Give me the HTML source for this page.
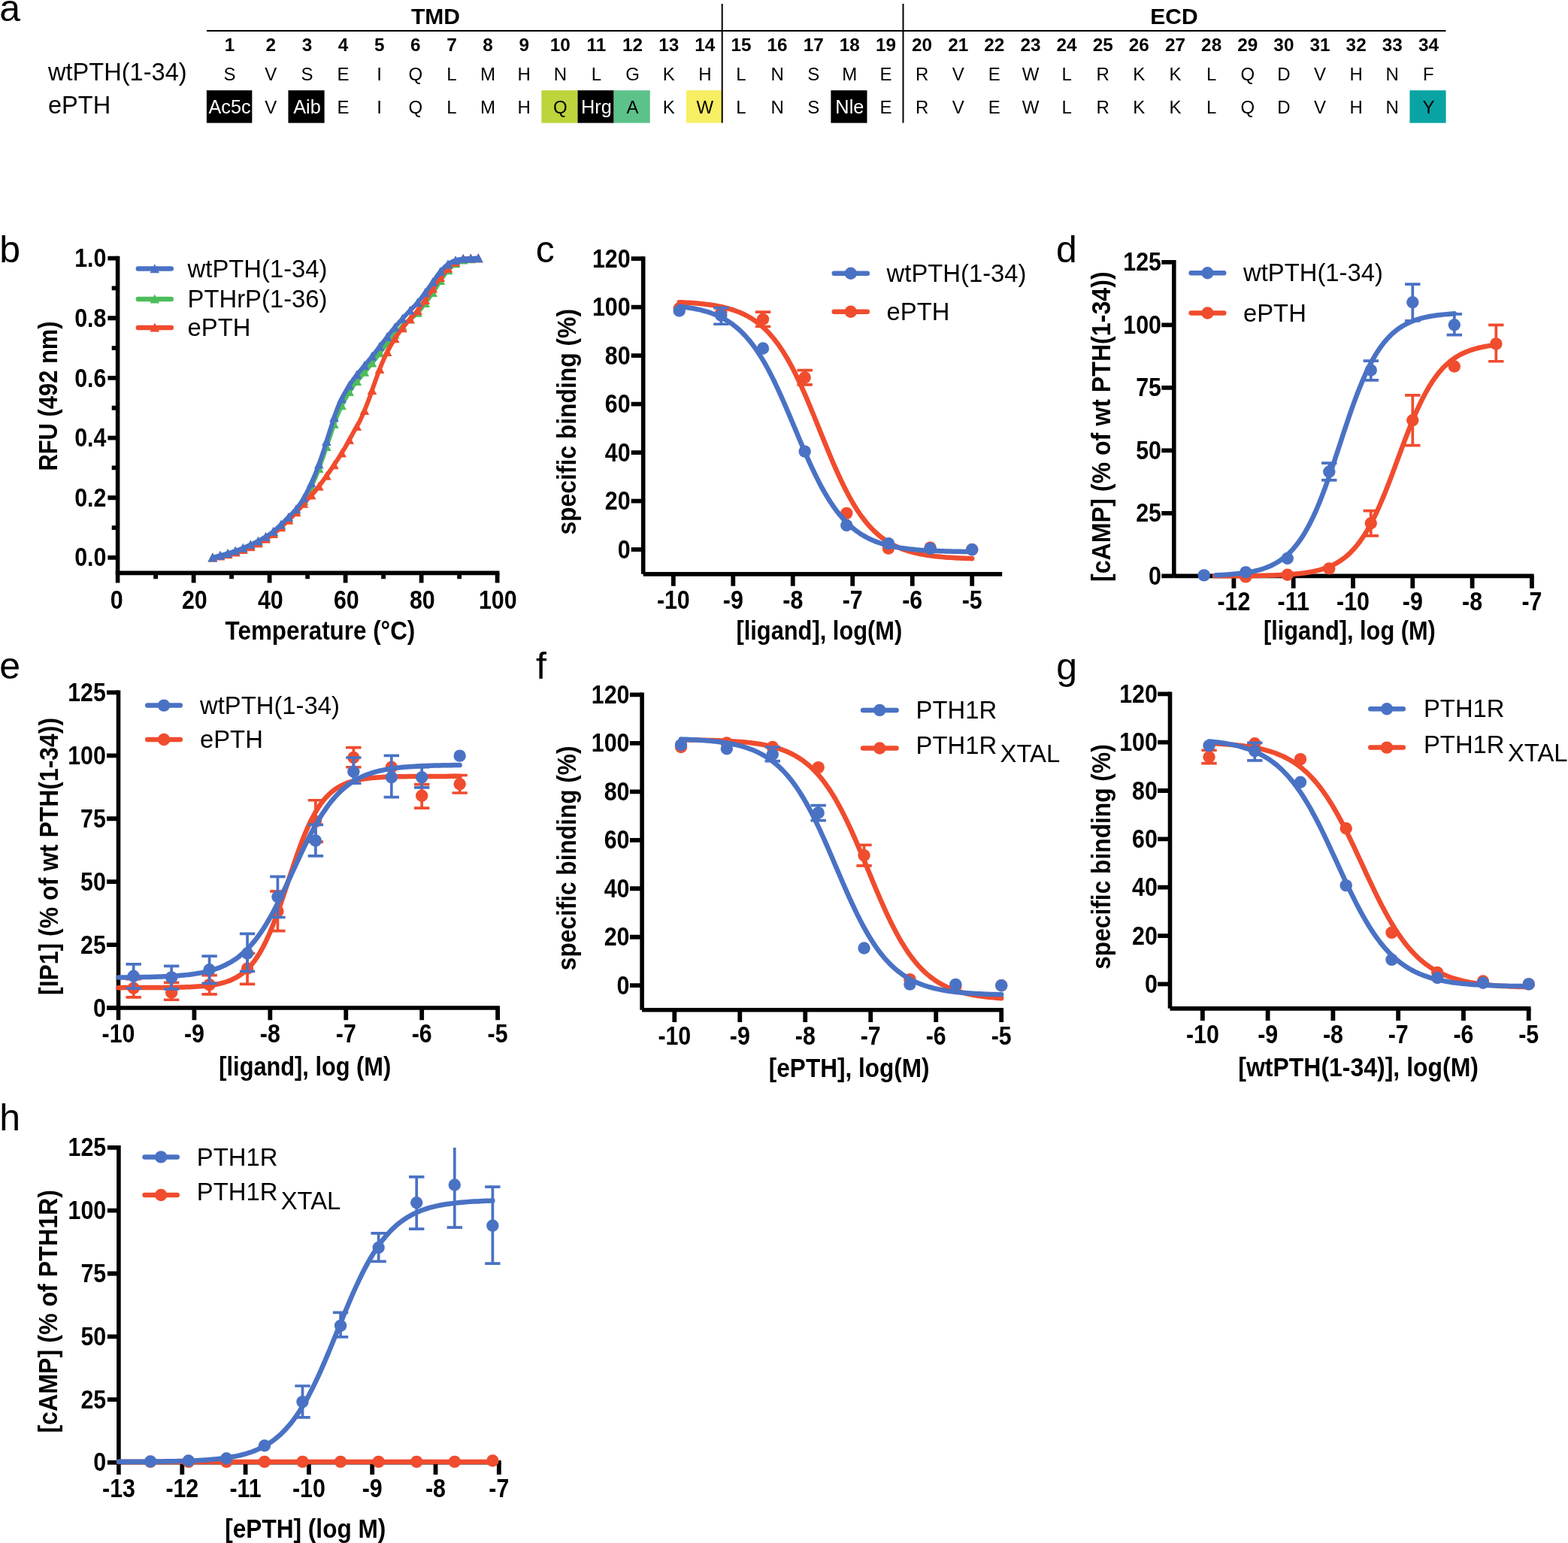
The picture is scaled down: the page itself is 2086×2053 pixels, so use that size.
<!DOCTYPE html>
<html lang="en">
<head>
<meta charset="utf-8">
<title>Figure</title>
<style>
html,body{margin:0;padding:0;background:#fff;}
body{width:2086px;height:2053px;overflow:hidden;}
svg{display:block;}
svg text{font-family:"Liberation Sans", Arial, Helvetica, sans-serif;fill:#000;}
</style>
</head>
<body>
<svg xmlns="http://www.w3.org/2000/svg" width="2086" height="2053" viewBox="0 0 2086 2053">
<rect width="2086" height="2053" fill="#fff"/>
<g id="panel-a">
<text transform="translate(-0.8 28.3)" font-size="50">a</text>
<text transform="translate(579.5 31.5)" font-size="30" font-weight="bold" text-anchor="middle">TMD</text>
<text transform="translate(1562 31.5)" font-size="30" font-weight="bold" text-anchor="middle">ECD</text>
<path d="M274.9 40.9 H1923.5" stroke="#000" stroke-width="2"/>
<rect x="274.9" y="120.2" width="60.44" height="43.4" fill="#000"/>
<rect x="383.46" y="120.2" width="48.13" height="43.4" fill="#000"/>
<rect x="720.36" y="120.2" width="48.13" height="43.4" fill="#bdd43b"/>
<rect x="768.49" y="120.2" width="48.13" height="43.4" fill="#000"/>
<rect x="816.62" y="120.2" width="48.13" height="43.4" fill="#5cc28a"/>
<rect x="912.87" y="120.2" width="48.13" height="43.4" fill="#f8ee63"/>
<rect x="1105.38" y="120.2" width="48.13" height="43.4" fill="#000"/>
<rect x="1875.43" y="120.2" width="48.13" height="43.4" fill="#0aa3a3"/>
<path d="M960.7 5 V163.5" stroke="#000" stroke-width="2"/>
<path d="M1201.5 5 V163.5" stroke="#000" stroke-width="2"/>
<text transform="translate(64 107.4)" font-size="32.6">wtPTH(1-34)</text>
<text transform="translate(64 150.8)" font-size="32.6">ePTH</text>
<text transform="translate(305.6 68.2)" font-size="24.3" font-weight="bold" text-anchor="middle">1</text>
<text transform="translate(305.6 107.4)" font-size="24" text-anchor="middle">S</text>
<text transform="translate(305.6 151)" font-size="25.3" text-anchor="middle" style="fill:#fff">Ac5c</text>
<text transform="translate(360.3 68.2)" font-size="24.3" font-weight="bold" text-anchor="middle">2</text>
<text transform="translate(360.3 107.4)" font-size="24" text-anchor="middle">V</text>
<text transform="translate(360.3 151)" font-size="24" text-anchor="middle">V</text>
<text transform="translate(408.43 68.2)" font-size="24.3" font-weight="bold" text-anchor="middle">3</text>
<text transform="translate(408.43 107.4)" font-size="24" text-anchor="middle">S</text>
<text transform="translate(408.43 151)" font-size="25.3" text-anchor="middle" style="fill:#fff">Aib</text>
<text transform="translate(456.56 68.2)" font-size="24.3" font-weight="bold" text-anchor="middle">4</text>
<text transform="translate(456.56 107.4)" font-size="24" text-anchor="middle">E</text>
<text transform="translate(456.56 151)" font-size="24" text-anchor="middle">E</text>
<text transform="translate(504.68 68.2)" font-size="24.3" font-weight="bold" text-anchor="middle">5</text>
<text transform="translate(504.68 107.4)" font-size="24" text-anchor="middle">I</text>
<text transform="translate(504.68 151)" font-size="24" text-anchor="middle">I</text>
<text transform="translate(552.81 68.2)" font-size="24.3" font-weight="bold" text-anchor="middle">6</text>
<text transform="translate(552.81 107.4)" font-size="24" text-anchor="middle">Q</text>
<text transform="translate(552.81 151)" font-size="24" text-anchor="middle">Q</text>
<text transform="translate(600.94 68.2)" font-size="24.3" font-weight="bold" text-anchor="middle">7</text>
<text transform="translate(600.94 107.4)" font-size="24" text-anchor="middle">L</text>
<text transform="translate(600.94 151)" font-size="24" text-anchor="middle">L</text>
<text transform="translate(649.07 68.2)" font-size="24.3" font-weight="bold" text-anchor="middle">8</text>
<text transform="translate(649.07 107.4)" font-size="24" text-anchor="middle">M</text>
<text transform="translate(649.07 151)" font-size="24" text-anchor="middle">M</text>
<text transform="translate(697.2 68.2)" font-size="24.3" font-weight="bold" text-anchor="middle">9</text>
<text transform="translate(697.2 107.4)" font-size="24" text-anchor="middle">H</text>
<text transform="translate(697.2 151)" font-size="24" text-anchor="middle">H</text>
<text transform="translate(745.32 68.2)" font-size="24.3" font-weight="bold" text-anchor="middle">10</text>
<text transform="translate(745.32 107.4)" font-size="24" text-anchor="middle">N</text>
<text transform="translate(745.32 151)" font-size="24" text-anchor="middle">Q</text>
<text transform="translate(793.45 68.2)" font-size="24.3" font-weight="bold" text-anchor="middle">11</text>
<text transform="translate(793.45 107.4)" font-size="24" text-anchor="middle">L</text>
<text transform="translate(793.45 151)" font-size="25.3" text-anchor="middle" style="fill:#fff">Hrg</text>
<text transform="translate(841.58 68.2)" font-size="24.3" font-weight="bold" text-anchor="middle">12</text>
<text transform="translate(841.58 107.4)" font-size="24" text-anchor="middle">G</text>
<text transform="translate(841.58 151)" font-size="24" text-anchor="middle">A</text>
<text transform="translate(889.71 68.2)" font-size="24.3" font-weight="bold" text-anchor="middle">13</text>
<text transform="translate(889.71 107.4)" font-size="24" text-anchor="middle">K</text>
<text transform="translate(889.71 151)" font-size="24" text-anchor="middle">K</text>
<text transform="translate(937.84 68.2)" font-size="24.3" font-weight="bold" text-anchor="middle">14</text>
<text transform="translate(937.84 107.4)" font-size="24" text-anchor="middle">H</text>
<text transform="translate(937.84 151)" font-size="24" text-anchor="middle">W</text>
<text transform="translate(985.96 68.2)" font-size="24.3" font-weight="bold" text-anchor="middle">15</text>
<text transform="translate(985.96 107.4)" font-size="24" text-anchor="middle">L</text>
<text transform="translate(985.96 151)" font-size="24" text-anchor="middle">L</text>
<text transform="translate(1034.09 68.2)" font-size="24.3" font-weight="bold" text-anchor="middle">16</text>
<text transform="translate(1034.09 107.4)" font-size="24" text-anchor="middle">N</text>
<text transform="translate(1034.09 151)" font-size="24" text-anchor="middle">N</text>
<text transform="translate(1082.22 68.2)" font-size="24.3" font-weight="bold" text-anchor="middle">17</text>
<text transform="translate(1082.22 107.4)" font-size="24" text-anchor="middle">S</text>
<text transform="translate(1082.22 151)" font-size="24" text-anchor="middle">S</text>
<text transform="translate(1130.35 68.2)" font-size="24.3" font-weight="bold" text-anchor="middle">18</text>
<text transform="translate(1130.35 107.4)" font-size="24" text-anchor="middle">M</text>
<text transform="translate(1130.35 151)" font-size="25.3" text-anchor="middle" style="fill:#fff">Nle</text>
<text transform="translate(1178.48 68.2)" font-size="24.3" font-weight="bold" text-anchor="middle">19</text>
<text transform="translate(1178.48 107.4)" font-size="24" text-anchor="middle">E</text>
<text transform="translate(1178.48 151)" font-size="24" text-anchor="middle">E</text>
<text transform="translate(1226.6 68.2)" font-size="24.3" font-weight="bold" text-anchor="middle">20</text>
<text transform="translate(1226.6 107.4)" font-size="24" text-anchor="middle">R</text>
<text transform="translate(1226.6 151)" font-size="24" text-anchor="middle">R</text>
<text transform="translate(1274.73 68.2)" font-size="24.3" font-weight="bold" text-anchor="middle">21</text>
<text transform="translate(1274.73 107.4)" font-size="24" text-anchor="middle">V</text>
<text transform="translate(1274.73 151)" font-size="24" text-anchor="middle">V</text>
<text transform="translate(1322.86 68.2)" font-size="24.3" font-weight="bold" text-anchor="middle">22</text>
<text transform="translate(1322.86 107.4)" font-size="24" text-anchor="middle">E</text>
<text transform="translate(1322.86 151)" font-size="24" text-anchor="middle">E</text>
<text transform="translate(1370.99 68.2)" font-size="24.3" font-weight="bold" text-anchor="middle">23</text>
<text transform="translate(1370.99 107.4)" font-size="24" text-anchor="middle">W</text>
<text transform="translate(1370.99 151)" font-size="24" text-anchor="middle">W</text>
<text transform="translate(1419.12 68.2)" font-size="24.3" font-weight="bold" text-anchor="middle">24</text>
<text transform="translate(1419.12 107.4)" font-size="24" text-anchor="middle">L</text>
<text transform="translate(1419.12 151)" font-size="24" text-anchor="middle">L</text>
<text transform="translate(1467.24 68.2)" font-size="24.3" font-weight="bold" text-anchor="middle">25</text>
<text transform="translate(1467.24 107.4)" font-size="24" text-anchor="middle">R</text>
<text transform="translate(1467.24 151)" font-size="24" text-anchor="middle">R</text>
<text transform="translate(1515.37 68.2)" font-size="24.3" font-weight="bold" text-anchor="middle">26</text>
<text transform="translate(1515.37 107.4)" font-size="24" text-anchor="middle">K</text>
<text transform="translate(1515.37 151)" font-size="24" text-anchor="middle">K</text>
<text transform="translate(1563.5 68.2)" font-size="24.3" font-weight="bold" text-anchor="middle">27</text>
<text transform="translate(1563.5 107.4)" font-size="24" text-anchor="middle">K</text>
<text transform="translate(1563.5 151)" font-size="24" text-anchor="middle">K</text>
<text transform="translate(1611.63 68.2)" font-size="24.3" font-weight="bold" text-anchor="middle">28</text>
<text transform="translate(1611.63 107.4)" font-size="24" text-anchor="middle">L</text>
<text transform="translate(1611.63 151)" font-size="24" text-anchor="middle">L</text>
<text transform="translate(1659.76 68.2)" font-size="24.3" font-weight="bold" text-anchor="middle">29</text>
<text transform="translate(1659.76 107.4)" font-size="24" text-anchor="middle">Q</text>
<text transform="translate(1659.76 151)" font-size="24" text-anchor="middle">Q</text>
<text transform="translate(1707.88 68.2)" font-size="24.3" font-weight="bold" text-anchor="middle">30</text>
<text transform="translate(1707.88 107.4)" font-size="24" text-anchor="middle">D</text>
<text transform="translate(1707.88 151)" font-size="24" text-anchor="middle">D</text>
<text transform="translate(1756.01 68.2)" font-size="24.3" font-weight="bold" text-anchor="middle">31</text>
<text transform="translate(1756.01 107.4)" font-size="24" text-anchor="middle">V</text>
<text transform="translate(1756.01 151)" font-size="24" text-anchor="middle">V</text>
<text transform="translate(1804.14 68.2)" font-size="24.3" font-weight="bold" text-anchor="middle">32</text>
<text transform="translate(1804.14 107.4)" font-size="24" text-anchor="middle">H</text>
<text transform="translate(1804.14 151)" font-size="24" text-anchor="middle">H</text>
<text transform="translate(1852.27 68.2)" font-size="24.3" font-weight="bold" text-anchor="middle">33</text>
<text transform="translate(1852.27 107.4)" font-size="24" text-anchor="middle">N</text>
<text transform="translate(1852.27 151)" font-size="24" text-anchor="middle">N</text>
<text transform="translate(1900.4 68.2)" font-size="24.3" font-weight="bold" text-anchor="middle">34</text>
<text transform="translate(1900.4 107.4)" font-size="24" text-anchor="middle">F</text>
<text transform="translate(1900.4 151)" font-size="24" text-anchor="middle">Y</text>
</g>
<g id="panel-b">
<text transform="translate(-0.8 349.3)" font-size="50">b</text>
<polyline points="282.85,741.9 285.38,741.27 287.9,740.67 290.42,740.07 292.95,739.47 295.48,738.87 298,738.26 300.52,737.63 303.05,736.96 305.57,736.27 308.1,735.53 310.62,734.74 313.15,733.92 315.67,733.05 318.2,732.15 320.73,731.21 323.25,730.23 325.77,729.22 328.3,728.17 330.82,727.09 333.35,725.97 335.88,724.81 338.4,723.61 340.92,722.36 343.45,721.06 345.98,719.71 348.5,718.3 351.02,716.83 353.55,715.3 356.07,713.7 358.6,712.03 361.12,710.25 363.65,708.34 366.17,706.32 368.7,704.19 371.23,701.97 373.75,699.68 376.27,697.34 378.8,694.95 381.32,692.54 383.85,690.12 386.38,687.72 388.9,685.3 391.42,682.81 393.95,680.17 396.48,677.32 399,674.19 401.52,670.6 404.05,666.51 406.57,662.08 409.1,657.46 411.62,652.65 414.15,647.54 416.67,642.11 419.2,636.35 421.73,630.11 424.25,623.39 426.77,616.38 429.3,609.27 431.82,601.98 434.35,594.44 436.88,586.84 439.4,579.39 441.92,571.93 444.45,564.4 446.98,557.21 449.5,550.72 452.02,544.95 454.55,539.64 457.07,534.68 459.6,530 462.12,525.54 464.65,521.31 467.17,517.35 469.7,513.67 472.23,510.34 474.75,507.28 477.27,504.32 479.8,501.33 482.32,498.28 484.85,495.26 487.38,492.25 489.9,489.22 492.42,486.14 494.95,483 497.48,479.76 500,476.41 502.52,473.02 505.05,469.63 507.57,466.31 510.1,463.09 512.62,459.97 515.15,456.9 517.67,453.88 520.2,450.91 522.73,448.01 525.25,445.17 527.77,442.37 530.3,439.6 532.82,436.89 535.35,434.25 537.88,431.69 540.4,429.23 542.92,426.96 545.45,424.86 547.98,422.83 550.5,420.77 553.02,418.56 555.55,416.09 558.07,413.24 560.6,410.07 563.12,406.72 565.65,403.35 568.17,399.99 570.7,396.57 573.23,393.05 575.75,389.4 578.27,385.52 580.8,381.44 583.32,377.36 585.85,373.47 588.38,369.71 590.9,365.99 593.42,362.53 595.95,359.53 598.48,356.94 601,354.58 603.52,352.5 606.05,350.77 608.57,349.25 611.1,347.86 613.62,346.73 616.15,345.99 618.67,345.53 621.2,345.15 623.73,344.84 626.25,344.58 628.77,344.35 631.3,344.12 633.82,343.88 636.35,343.6" fill="none" stroke="#4cbd5a" stroke-width="5.9" stroke-linejoin="round" stroke-linecap="round"/>
<path d="M282.85 735.5 L289.15 747.5 L276.55 747.5 Z" fill="#4cbd5a"/><path d="M292.95 733.07 L299.25 745.07 L286.65 745.07 Z" fill="#4cbd5a"/><path d="M303.05 730.56 L309.35 742.56 L296.75 742.56 Z" fill="#4cbd5a"/><path d="M313.15 727.52 L319.45 739.52 L306.85 739.52 Z" fill="#4cbd5a"/><path d="M323.25 723.83 L329.55 735.83 L316.95 735.83 Z" fill="#4cbd5a"/><path d="M333.35 719.57 L339.65 731.57 L327.05 731.57 Z" fill="#4cbd5a"/><path d="M343.45 714.66 L349.75 726.66 L337.15 726.66 Z" fill="#4cbd5a"/><path d="M353.55 708.9 L359.85 720.9 L347.25 720.9 Z" fill="#4cbd5a"/><path d="M363.65 701.94 L369.95 713.94 L357.35 713.94 Z" fill="#4cbd5a"/><path d="M373.75 693.28 L380.05 705.28 L367.45 705.28 Z" fill="#4cbd5a"/><path d="M383.85 683.72 L390.15 695.72 L377.55 695.72 Z" fill="#4cbd5a"/><path d="M393.95 673.77 L400.25 685.77 L387.65 685.77 Z" fill="#4cbd5a"/><path d="M404.05 660.11 L410.35 672.11 L397.75 672.11 Z" fill="#4cbd5a"/><path d="M414.15 641.14 L420.45 653.14 L407.85 653.14 Z" fill="#4cbd5a"/><path d="M424.25 616.99 L430.55 628.99 L417.95 628.99 Z" fill="#4cbd5a"/><path d="M434.35 588.04 L440.65 600.04 L428.05 600.04 Z" fill="#4cbd5a"/><path d="M444.45 558 L450.75 570 L438.15 570 Z" fill="#4cbd5a"/><path d="M454.55 533.24 L460.85 545.24 L448.25 545.24 Z" fill="#4cbd5a"/><path d="M464.65 514.91 L470.95 526.91 L458.35 526.91 Z" fill="#4cbd5a"/><path d="M474.75 500.88 L481.05 512.88 L468.45 512.88 Z" fill="#4cbd5a"/><path d="M484.85 488.86 L491.15 500.86 L478.55 500.86 Z" fill="#4cbd5a"/><path d="M494.95 476.61 L501.25 488.61 L488.65 488.61 Z" fill="#4cbd5a"/><path d="M505.05 463.23 L511.35 475.23 L498.75 475.23 Z" fill="#4cbd5a"/><path d="M515.15 450.5 L521.45 462.5 L508.85 462.5 Z" fill="#4cbd5a"/><path d="M525.25 438.77 L531.55 450.77 L518.95 450.77 Z" fill="#4cbd5a"/><path d="M535.35 427.85 L541.65 439.85 L529.05 439.85 Z" fill="#4cbd5a"/><path d="M545.45 418.46 L551.75 430.46 L539.15 430.46 Z" fill="#4cbd5a"/><path d="M555.55 409.69 L561.85 421.69 L549.25 421.69 Z" fill="#4cbd5a"/><path d="M565.65 396.95 L571.95 408.95 L559.35 408.95 Z" fill="#4cbd5a"/><path d="M575.75 383 L582.05 395 L569.45 395 Z" fill="#4cbd5a"/><path d="M585.85 367.07 L592.15 379.07 L579.55 379.07 Z" fill="#4cbd5a"/><path d="M595.95 353.13 L602.25 365.13 L589.65 365.13 Z" fill="#4cbd5a"/><path d="M606.05 344.37 L612.35 356.37 L599.75 356.37 Z" fill="#4cbd5a"/><path d="M616.15 339.59 L622.45 351.59 L609.85 351.59 Z" fill="#4cbd5a"/><path d="M626.25 338.18 L632.55 350.18 L619.95 350.18 Z" fill="#4cbd5a"/><path d="M636.35 337.2 L642.65 349.2 L630.05 349.2 Z" fill="#4cbd5a"/>
<polyline points="282.85,741.9 285.38,741.35 287.9,740.82 290.42,740.31 292.95,739.79 295.48,739.27 298,738.73 300.52,738.18 303.05,737.6 305.57,736.98 308.1,736.32 310.62,735.62 313.15,734.88 315.67,734.1 318.2,733.28 320.73,732.42 323.25,731.52 325.77,730.59 328.3,729.62 330.82,728.61 333.35,727.56 335.88,726.47 338.4,725.33 340.92,724.13 343.45,722.87 345.98,721.55 348.5,720.17 351.02,718.73 353.55,717.23 356.07,715.66 358.6,714.02 361.12,712.27 363.65,710.37 366.17,708.35 368.7,706.22 371.23,704 373.75,701.7 376.27,699.35 378.8,696.95 381.32,694.54 383.85,692.11 386.38,689.64 388.9,687.09 391.42,684.45 393.95,681.74 396.48,678.98 399,676.18 401.52,673.26 404.05,670.21 406.57,667.16 409.1,664.23 411.62,661.52 414.15,658.93 416.67,656.3 419.2,653.48 421.73,650.4 424.25,647.14 426.77,643.75 429.3,640.26 431.82,636.72 434.35,633.16 436.88,629.59 439.4,625.97 441.92,622.28 444.45,618.54 446.98,614.73 449.5,610.86 452.02,606.92 454.55,602.9 457.07,598.78 459.6,594.53 462.12,590.1 464.65,585.5 467.17,580.84 469.7,576.21 472.23,571.75 474.75,567.37 477.27,562.83 479.8,557.89 482.32,552.38 484.85,546.41 487.38,540.11 489.9,533.59 492.42,526.68 494.95,519.36 497.48,511.99 500,504.91 502.52,498.09 505.05,491.38 507.57,484.96 510.1,479.02 512.62,473.57 515.15,468.46 517.67,463.65 520.2,459.11 522.73,454.79 525.25,450.7 527.77,446.83 530.3,443.18 532.82,439.76 535.35,436.54 537.88,433.46 540.4,430.43 542.92,427.5 545.45,424.71 547.98,421.97 550.5,419.21 553.02,416.35 555.55,413.3 558.07,410.03 560.6,406.57 563.12,402.99 565.65,399.36 568.17,395.66 570.7,391.85 573.23,388.01 575.75,384.23 578.27,380.45 580.8,376.67 583.32,372.98 585.85,369.49 588.38,366.14 590.9,362.88 593.42,359.84 595.95,357.14 598.48,354.7 601,352.43 603.52,350.43 606.05,348.78 608.57,347.32 611.1,345.97 613.62,344.92 616.15,344.4 618.67,344.22 621.2,344.08 623.73,343.98 626.25,343.9 628.77,343.83 631.3,343.76 633.82,343.69 636.35,343.6" fill="none" stroke="#f04c2e" stroke-width="5.9" stroke-linejoin="round" stroke-linecap="round"/>
<path d="M282.85 735.5 L289.15 747.5 L276.55 747.5 Z" fill="#f04c2e"/><path d="M292.95 733.39 L299.25 745.39 L286.65 745.39 Z" fill="#f04c2e"/><path d="M303.05 731.2 L309.35 743.2 L296.75 743.2 Z" fill="#f04c2e"/><path d="M313.15 728.48 L319.45 740.48 L306.85 740.48 Z" fill="#f04c2e"/><path d="M323.25 725.12 L329.55 737.12 L316.95 737.12 Z" fill="#f04c2e"/><path d="M333.35 721.16 L339.65 733.16 L327.05 733.16 Z" fill="#f04c2e"/><path d="M343.45 716.47 L349.75 728.47 L337.15 728.47 Z" fill="#f04c2e"/><path d="M353.55 710.83 L359.85 722.83 L347.25 722.83 Z" fill="#f04c2e"/><path d="M363.65 703.97 L369.95 715.97 L357.35 715.97 Z" fill="#f04c2e"/><path d="M373.75 695.3 L380.05 707.3 L367.45 707.3 Z" fill="#f04c2e"/><path d="M383.85 685.71 L390.15 697.71 L377.55 697.71 Z" fill="#f04c2e"/><path d="M393.95 675.34 L400.25 687.34 L387.65 687.34 Z" fill="#f04c2e"/><path d="M404.05 663.81 L410.35 675.81 L397.75 675.81 Z" fill="#f04c2e"/><path d="M414.15 652.53 L420.45 664.53 L407.85 664.53 Z" fill="#f04c2e"/><path d="M424.25 640.74 L430.55 652.74 L417.95 652.74 Z" fill="#f04c2e"/><path d="M434.35 626.76 L440.65 638.76 L428.05 638.76 Z" fill="#f04c2e"/><path d="M444.45 612.14 L450.75 624.14 L438.15 624.14 Z" fill="#f04c2e"/><path d="M454.55 596.5 L460.85 608.5 L448.25 608.5 Z" fill="#f04c2e"/><path d="M464.65 579.1 L470.95 591.1 L458.35 591.1 Z" fill="#f04c2e"/><path d="M474.75 560.97 L481.05 572.97 L468.45 572.97 Z" fill="#f04c2e"/><path d="M484.85 540.01 L491.15 552.01 L478.55 552.01 Z" fill="#f04c2e"/><path d="M494.95 512.96 L501.25 524.96 L488.65 524.96 Z" fill="#f04c2e"/><path d="M505.05 484.98 L511.35 496.98 L498.75 496.98 Z" fill="#f04c2e"/><path d="M515.15 462.06 L521.45 474.06 L508.85 474.06 Z" fill="#f04c2e"/><path d="M525.25 444.3 L531.55 456.3 L518.95 456.3 Z" fill="#f04c2e"/><path d="M535.35 430.14 L541.65 442.14 L529.05 442.14 Z" fill="#f04c2e"/><path d="M545.45 418.31 L551.75 430.31 L539.15 430.31 Z" fill="#f04c2e"/><path d="M555.55 406.9 L561.85 418.9 L549.25 418.9 Z" fill="#f04c2e"/><path d="M565.65 392.96 L571.95 404.96 L559.35 404.96 Z" fill="#f04c2e"/><path d="M575.75 377.83 L582.05 389.83 L569.45 389.83 Z" fill="#f04c2e"/><path d="M585.85 363.09 L592.15 375.09 L579.55 375.09 Z" fill="#f04c2e"/><path d="M595.95 350.74 L602.25 362.74 L589.65 362.74 Z" fill="#f04c2e"/><path d="M606.05 342.38 L612.35 354.38 L599.75 354.38 Z" fill="#f04c2e"/><path d="M616.15 338 L622.45 350 L609.85 350 Z" fill="#f04c2e"/><path d="M626.25 337.5 L632.55 349.5 L619.95 349.5 Z" fill="#f04c2e"/><path d="M636.35 337.2 L642.65 349.2 L630.05 349.2 Z" fill="#f04c2e"/>
<polyline points="282.85,741.9 285.38,741.19 287.9,740.5 290.42,739.82 292.95,739.14 295.48,738.46 298,737.77 300.52,737.05 303.05,736.31 305.57,735.54 308.1,734.73 310.62,733.88 313.15,733 315.67,732.09 318.2,731.14 320.73,730.16 323.25,729.15 325.77,728.11 328.3,727.03 330.82,725.92 333.35,724.77 335.88,723.6 338.4,722.39 340.92,721.14 343.45,719.85 345.98,718.51 348.5,717.11 351.02,715.65 353.55,714.12 356.07,712.52 358.6,710.83 361.12,709.03 363.65,707.08 366.17,705 368.7,702.8 371.23,700.51 373.75,698.14 376.27,695.7 378.8,693.21 381.32,690.68 383.85,688.13 386.38,685.57 388.9,682.98 391.42,680.28 393.95,677.42 396.48,674.35 399,671 401.52,667.21 404.05,662.94 406.57,658.32 409.1,653.48 411.62,648.39 414.15,642.97 416.67,637.22 419.2,631.17 421.73,624.73 424.25,617.85 426.77,610.67 429.3,603.29 431.82,595.58 434.35,587.5 436.88,579.35 439.4,571.43 441.92,563.56 444.45,555.66 446.98,548.18 449.5,541.56 452.02,535.82 454.55,530.61 457.07,525.79 459.6,521.24 462.12,516.9 464.65,512.81 467.17,508.95 469.7,505.31 472.23,501.91 474.75,498.73 477.27,495.65 479.8,492.56 482.32,489.48 484.85,486.44 487.38,483.42 489.9,480.4 492.42,477.35 494.95,474.24 497.48,471.06 500,467.81 502.52,464.54 505.05,461.25 507.57,457.97 510.1,454.73 512.62,451.49 515.15,448.25 517.67,445.01 520.2,441.81 522.73,438.67 525.25,435.61 527.77,432.63 530.3,429.71 532.82,426.85 535.35,424.03 537.88,421.24 540.4,418.48 542.92,415.8 545.45,413.22 547.98,410.67 550.5,408.09 553.02,405.4 555.55,402.55 558.07,399.46 560.6,396.19 563.12,392.81 565.65,389.4 568.17,385.98 570.7,382.49 573.23,378.97 575.75,375.46 578.27,371.87 580.8,368.2 583.32,364.68 585.85,361.52 588.38,358.65 590.9,355.94 593.42,353.54 595.95,351.57 598.48,349.93 601,348.48 603.52,347.28 606.05,346.39 608.57,345.71 611.1,345.12 613.62,344.67 616.15,344.4 618.67,344.24 621.2,344.11 623.73,344 626.25,343.92 628.77,343.84 631.3,343.77 633.82,343.69 636.35,343.6" fill="none" stroke="#4a72c4" stroke-width="5.9" stroke-linejoin="round" stroke-linecap="round"/>
<path d="M282.85 735.5 L289.15 747.5 L276.55 747.5 Z" fill="#4a72c4"/><path d="M292.95 732.74 L299.25 744.74 L286.65 744.74 Z" fill="#4a72c4"/><path d="M303.05 729.91 L309.35 741.91 L296.75 741.91 Z" fill="#4a72c4"/><path d="M313.15 726.6 L319.45 738.6 L306.85 738.6 Z" fill="#4a72c4"/><path d="M323.25 722.75 L329.55 734.75 L316.95 734.75 Z" fill="#4a72c4"/><path d="M333.35 718.37 L339.65 730.37 L327.05 730.37 Z" fill="#4a72c4"/><path d="M343.45 713.45 L349.75 725.45 L337.15 725.45 Z" fill="#4a72c4"/><path d="M353.55 707.72 L359.85 719.72 L347.25 719.72 Z" fill="#4a72c4"/><path d="M363.65 700.68 L369.95 712.68 L357.35 712.68 Z" fill="#4a72c4"/><path d="M373.75 691.74 L380.05 703.74 L367.45 703.74 Z" fill="#4a72c4"/><path d="M383.85 681.73 L390.15 693.73 L377.55 693.73 Z" fill="#4a72c4"/><path d="M393.95 671.02 L400.25 683.02 L387.65 683.02 Z" fill="#4a72c4"/><path d="M404.05 656.54 L410.35 668.54 L397.75 668.54 Z" fill="#4a72c4"/><path d="M414.15 636.57 L420.45 648.57 L407.85 648.57 Z" fill="#4a72c4"/><path d="M424.25 611.45 L430.55 623.45 L417.95 623.45 Z" fill="#4a72c4"/><path d="M434.35 581.1 L440.65 593.1 L428.05 593.1 Z" fill="#4a72c4"/><path d="M444.45 549.26 L450.75 561.26 L438.15 561.26 Z" fill="#4a72c4"/><path d="M454.55 524.21 L460.85 536.21 L448.25 536.21 Z" fill="#4a72c4"/><path d="M464.65 506.41 L470.95 518.41 L458.35 518.41 Z" fill="#4a72c4"/><path d="M474.75 492.33 L481.05 504.33 L468.45 504.33 Z" fill="#4a72c4"/><path d="M484.85 480.04 L491.15 492.04 L478.55 492.04 Z" fill="#4a72c4"/><path d="M494.95 467.84 L501.25 479.84 L488.65 479.84 Z" fill="#4a72c4"/><path d="M505.05 454.85 L511.35 466.85 L498.75 466.85 Z" fill="#4a72c4"/><path d="M515.15 441.85 L521.45 453.85 L508.85 453.85 Z" fill="#4a72c4"/><path d="M525.25 429.21 L531.55 441.21 L518.95 441.21 Z" fill="#4a72c4"/><path d="M535.35 417.63 L541.65 429.63 L529.05 429.63 Z" fill="#4a72c4"/><path d="M545.45 406.82 L551.75 418.82 L539.15 418.82 Z" fill="#4a72c4"/><path d="M555.55 396.15 L561.85 408.15 L549.25 408.15 Z" fill="#4a72c4"/><path d="M565.65 383 L571.95 395 L559.35 395 Z" fill="#4a72c4"/><path d="M575.75 369.06 L582.05 381.06 L569.45 381.06 Z" fill="#4a72c4"/><path d="M585.85 355.12 L592.15 367.12 L579.55 367.12 Z" fill="#4a72c4"/><path d="M595.95 345.17 L602.25 357.17 L589.65 357.17 Z" fill="#4a72c4"/><path d="M606.05 339.99 L612.35 351.99 L599.75 351.99 Z" fill="#4a72c4"/><path d="M616.15 338 L622.45 350 L609.85 350 Z" fill="#4a72c4"/><path d="M626.25 337.52 L632.55 349.52 L619.95 349.52 Z" fill="#4a72c4"/><path d="M636.35 337.2 L642.65 349.2 L630.05 349.2 Z" fill="#4a72c4"/>
<g stroke="#000" stroke-width="5.6" fill="none">
<path d="M153.8 762.4 H664.4"/>
<path d="M156.6 775.6 V340.7"/>
</g>
<path d="M257.6 762.4 v13.2 M358.6 762.4 v13.2 M459.6 762.4 v13.2 M560.6 762.4 v13.2 M661.6 762.4 v13.2 M207.1 762.4 v7.8 M308.1 762.4 v7.8 M409.1 762.4 v7.8 M510.1 762.4 v7.8 M611.1 762.4 v7.8 M156.6 741.9 h-13.2 M156.6 662.24 h-13.2 M156.6 582.58 h-13.2 M156.6 502.92 h-13.2 M156.6 423.26 h-13.2 M156.6 343.6 h-13.2 M156.6 702.07 h-7.9 M156.6 622.41 h-7.9 M156.6 542.75 h-7.9 M156.6 463.09 h-7.9 M156.6 383.43 h-7.9" stroke="#000" stroke-width="5.8" fill="none"/>
<g class="ticks">
<text transform="translate(155.3 810) scale(0.885 1)" font-size="34.3" font-weight="bold" text-anchor="middle">0</text>
<text transform="translate(258.75 810) scale(0.885 1)" font-size="34.3" font-weight="bold" text-anchor="middle">20</text>
<text transform="translate(359.75 810) scale(0.885 1)" font-size="34.3" font-weight="bold" text-anchor="middle">40</text>
<text transform="translate(460.75 810) scale(0.885 1)" font-size="34.3" font-weight="bold" text-anchor="middle">60</text>
<text transform="translate(561.75 810) scale(0.885 1)" font-size="34.3" font-weight="bold" text-anchor="middle">80</text>
<text transform="translate(662.2 810) scale(0.885 1)" font-size="34.3" font-weight="bold" text-anchor="middle">100</text>
<text transform="translate(141.4 753.48) scale(0.885 1)" font-size="34.3" font-weight="bold" text-anchor="end">0.0</text>
<text transform="translate(141.4 673.82) scale(0.885 1)" font-size="34.3" font-weight="bold" text-anchor="end">0.2</text>
<text transform="translate(141.4 594.16) scale(0.885 1)" font-size="34.3" font-weight="bold" text-anchor="end">0.4</text>
<text transform="translate(141.4 514.5) scale(0.885 1)" font-size="34.3" font-weight="bold" text-anchor="end">0.6</text>
<text transform="translate(141.4 434.84) scale(0.885 1)" font-size="34.3" font-weight="bold" text-anchor="end">0.8</text>
<text transform="translate(141.4 355.18) scale(0.885 1)" font-size="34.3" font-weight="bold" text-anchor="end">1.0</text>
</g>
<text transform="translate(76.4 527) rotate(-90)" font-size="34.5" font-weight="bold" text-anchor="middle" textLength="199.2" lengthAdjust="spacingAndGlyphs">RFU (492 nm)</text>
<text transform="translate(425.95 850.8)" font-size="34.5" font-weight="bold" text-anchor="middle" textLength="252.7" lengthAdjust="spacingAndGlyphs">Temperature (°C)</text>
<path d="M183.85 357.6 H227.75" stroke="#4a72c4" stroke-width="6.5" stroke-linecap="round" fill="none"/>
<path d="M205.8 351.2 L212.1 363.2 L199.5 363.2 Z" fill="#4a72c4"/>
<text transform="translate(249.6 368.7) scale(0.985 1)" font-size="33.3">wtPTH(1-34)</text>
<path d="M183.85 397.9 H227.75" stroke="#4cbd5a" stroke-width="6.5" stroke-linecap="round" fill="none"/>
<path d="M205.8 391.5 L212.1 403.5 L199.5 403.5 Z" fill="#4cbd5a"/>
<text transform="translate(249.6 409) scale(0.985 1)" font-size="33.3">PTHrP(1-36)</text>
<path d="M183.85 436 H227.75" stroke="#f04c2e" stroke-width="6.5" stroke-linecap="round" fill="none"/>
<path d="M205.8 429.6 L212.1 441.6 L199.5 441.6 Z" fill="#f04c2e"/>
<text transform="translate(249.6 447.1) scale(0.985 1)" font-size="33.3">ePTH</text>
</g>
<g id="panel-c">
<text transform="translate(712.8 349.3)" font-size="50">c</text>
<g stroke="#000" stroke-width="5.6" fill="none">
<path d="M855.7 763.85 H1333.2"/>
<path d="M855.7 763.85 V341.3"/>
</g>
<path d="M895.8 763.85 v16 M975.28 763.85 v16 M1054.76 763.85 v16 M1134.24 763.85 v16 M1213.72 763.85 v16 M1293.2 763.85 v16 M855.7 731.2 h-16 M855.7 666.7 h-16 M855.7 602.2 h-16 M855.7 537.7 h-16 M855.7 473.2 h-16 M855.7 408.7 h-16 M855.7 344.2 h-16" stroke="#000" stroke-width="5.8" fill="none"/>
<g class="ticks">
<text transform="translate(895.8 809.6) scale(0.885 1)" font-size="34.3" font-weight="bold" text-anchor="middle">-10</text>
<text transform="translate(975.28 809.6) scale(0.885 1)" font-size="34.3" font-weight="bold" text-anchor="middle">-9</text>
<text transform="translate(1054.76 809.6) scale(0.885 1)" font-size="34.3" font-weight="bold" text-anchor="middle">-8</text>
<text transform="translate(1134.24 809.6) scale(0.885 1)" font-size="34.3" font-weight="bold" text-anchor="middle">-7</text>
<text transform="translate(1213.72 809.6) scale(0.885 1)" font-size="34.3" font-weight="bold" text-anchor="middle">-6</text>
<text transform="translate(1293.2 809.6) scale(0.885 1)" font-size="34.3" font-weight="bold" text-anchor="middle">-5</text>
<text transform="translate(838.6 742.78) scale(0.885 1)" font-size="34.3" font-weight="bold" text-anchor="end">0</text>
<text transform="translate(838.6 678.28) scale(0.885 1)" font-size="34.3" font-weight="bold" text-anchor="end">20</text>
<text transform="translate(838.6 613.78) scale(0.885 1)" font-size="34.3" font-weight="bold" text-anchor="end">40</text>
<text transform="translate(838.6 549.28) scale(0.885 1)" font-size="34.3" font-weight="bold" text-anchor="end">60</text>
<text transform="translate(838.6 484.78) scale(0.885 1)" font-size="34.3" font-weight="bold" text-anchor="end">80</text>
<text transform="translate(838.6 420.28) scale(0.885 1)" font-size="34.3" font-weight="bold" text-anchor="end">100</text>
<text transform="translate(838.6 355.78) scale(0.885 1)" font-size="34.3" font-weight="bold" text-anchor="end">120</text>
</g>
<polyline points="903.75,402.16 906.99,402.31 910.24,402.48 913.48,402.66 916.73,402.86 919.98,403.08 923.22,403.31 926.47,403.58 929.71,403.86 932.96,404.18 936.2,404.52 939.45,404.9 942.69,405.31 945.94,405.77 949.18,406.27 952.43,406.81 955.67,407.41 958.92,408.06 962.17,408.77 965.41,409.56 968.66,410.41 971.9,411.34 975.15,412.36 978.39,413.48 981.64,414.69 984.88,416.01 988.13,417.45 991.37,419.02 994.62,420.73 997.87,422.58 1001.11,424.6 1004.36,426.78 1007.6,429.14 1010.85,431.7 1014.09,434.46 1017.34,437.44 1020.58,440.64 1023.83,444.09 1027.07,447.78 1030.32,451.74 1033.57,455.96 1036.81,460.47 1040.06,465.26 1043.3,470.33 1046.55,475.7 1049.79,481.36 1053.04,487.31 1056.28,493.55 1059.53,500.06 1062.77,506.83 1066.02,513.85 1069.27,521.09 1072.51,528.54 1075.76,536.18 1079,543.96 1082.25,551.87 1085.49,559.87 1088.74,567.92 1091.98,575.99 1095.23,584.05 1098.47,592.05 1101.72,599.97 1104.96,607.77 1108.21,615.42 1111.46,622.89 1114.7,630.16 1117.95,637.21 1121.19,644 1124.44,650.54 1127.68,656.8 1130.93,662.78 1134.17,668.47 1137.42,673.87 1140.66,678.98 1143.91,683.79 1147.16,688.33 1150.4,692.58 1153.65,696.56 1156.89,700.29 1160.14,703.76 1163.38,706.99 1166.63,709.98 1169.87,712.77 1173.12,715.34 1176.36,717.73 1179.61,719.93 1182.86,721.96 1186.1,723.83 1189.35,725.55 1192.59,727.13 1195.84,728.58 1199.08,729.92 1202.33,731.14 1205.57,732.27 1208.82,733.29 1212.06,734.24 1215.31,735.1 1218.56,735.89 1221.8,736.61 1225.05,737.27 1228.29,737.87 1231.54,738.42 1234.78,738.92 1238.03,739.38 1241.27,739.8 1244.52,740.18 1247.76,740.53 1251.01,740.84 1254.25,741.13 1257.5,741.4 1260.75,741.64 1263.99,741.86 1267.24,742.06 1270.48,742.24 1273.73,742.41 1276.97,742.56 1280.22,742.7 1283.46,742.82 1286.71,742.94 1289.95,743.04 1293.2,743.13" fill="none" stroke="#f04c2e" stroke-width="6.5" stroke-linecap="round" stroke-linejoin="round"/>
<path d="M1015.02 434.5 V415.15 M1004.82 434.5 h20.4 M1004.82 415.15 h20.4 M1070.66 511.9 V492.55 M1060.46 511.9 h20.4 M1060.46 492.55 h20.4" stroke="#f04c2e" stroke-width="3.7" fill="none"/>
<g fill="#f04c2e"><circle cx="903.75" cy="410.31" r="8.2"/><circle cx="959.38" cy="415.8" r="8.2"/><circle cx="1015.02" cy="424.82" r="8.2"/><circle cx="1070.66" cy="502.23" r="8.2"/><circle cx="1126.29" cy="682.83" r="8.2"/><circle cx="1181.93" cy="729.59" r="8.2"/><circle cx="1237.56" cy="728.62" r="8.2"/><circle cx="1293.2" cy="731.2" r="8.2"/></g>
<polyline points="903.75,407.7 906.99,408.07 910.24,408.48 913.48,408.93 916.73,409.42 919.98,409.96 923.22,410.55 926.47,411.2 929.71,411.9 932.96,412.67 936.2,413.52 939.45,414.44 942.69,415.44 945.94,416.54 949.18,417.74 952.43,419.04 955.67,420.47 958.92,422.01 962.17,423.7 965.41,425.52 968.66,427.5 971.9,429.65 975.15,431.98 978.39,434.5 981.64,437.21 984.88,440.14 988.13,443.29 991.37,446.67 994.62,450.3 997.87,454.18 1001.11,458.32 1004.36,462.73 1007.6,467.42 1010.85,472.39 1014.09,477.64 1017.34,483.17 1020.58,488.97 1023.83,495.05 1027.07,501.38 1030.32,507.97 1033.57,514.79 1036.81,521.82 1040.06,529.05 1043.3,536.44 1046.55,543.97 1049.79,551.61 1053.04,559.32 1056.28,567.08 1059.53,574.85 1062.77,582.59 1066.02,590.28 1069.27,597.87 1072.51,605.34 1075.76,612.65 1079,619.79 1082.25,626.73 1085.49,633.44 1088.74,639.91 1091.98,646.13 1095.23,652.08 1098.47,657.75 1101.72,663.15 1104.96,668.26 1108.21,673.1 1111.46,677.66 1114.7,681.94 1117.95,685.96 1121.19,689.72 1124.44,693.24 1127.68,696.51 1130.93,699.55 1134.17,702.38 1137.42,705 1140.66,707.42 1143.91,709.66 1147.16,711.73 1150.4,713.64 1153.65,715.4 1156.89,717.02 1160.14,718.5 1163.38,719.87 1166.63,721.12 1169.87,722.27 1173.12,723.33 1176.36,724.29 1179.61,725.18 1182.86,725.98 1186.1,726.72 1189.35,727.4 1192.59,728.02 1195.84,728.58 1199.08,729.1 1202.33,729.57 1205.57,730 1208.82,730.39 1212.06,730.75 1215.31,731.08 1218.56,731.37 1221.8,731.65 1225.05,731.89 1228.29,732.12 1231.54,732.32 1234.78,732.51 1238.03,732.68 1241.27,732.84 1244.52,732.98 1247.76,733.11 1251.01,733.23 1254.25,733.33 1257.5,733.43 1260.75,733.52 1263.99,733.6 1267.24,733.68 1270.48,733.74 1273.73,733.8 1276.97,733.86 1280.22,733.91 1283.46,733.96 1286.71,734 1289.95,734.04 1293.2,734.07" fill="none" stroke="#4a72c4" stroke-width="6.5" stroke-linecap="round" stroke-linejoin="round"/>
<path d="M959.38 431.27 V409.67 M949.18 431.27 h20.4 M949.18 409.67 h20.4" stroke="#4a72c4" stroke-width="3.7" fill="none"/>
<g fill="#4a72c4"><circle cx="903.75" cy="413.54" r="8.2"/><circle cx="959.38" cy="419.67" r="8.2"/><circle cx="1015.02" cy="463.52" r="8.2"/><circle cx="1070.66" cy="600.59" r="8.2"/><circle cx="1126.29" cy="698.95" r="8.2"/><circle cx="1181.93" cy="723.14" r="8.2"/><circle cx="1237.56" cy="729.91" r="8.2"/><circle cx="1293.2" cy="731.2" r="8.2"/></g>
<text transform="translate(765.8 561.3) rotate(-90)" font-size="34.5" font-weight="bold" text-anchor="middle" textLength="300.6" lengthAdjust="spacingAndGlyphs">specific binding (%)</text>
<text transform="translate(1089.85 850.6)" font-size="34.5" font-weight="bold" text-anchor="middle" textLength="220.9" lengthAdjust="spacingAndGlyphs">[ligand], log(M)</text>
<path d="M1109.75 363.7 H1153.85" stroke="#4a72c4" stroke-width="6.5" stroke-linecap="round" fill="none"/>
<circle cx="1131.8" cy="363.7" r="8.2" fill="#4a72c4"/>
<text transform="translate(1179.6 374.8) scale(0.985 1)" font-size="33.3">wtPTH(1-34)</text>
<path d="M1109.75 414.7 H1153.85" stroke="#f04c2e" stroke-width="6.5" stroke-linecap="round" fill="none"/>
<circle cx="1131.8" cy="414.7" r="8.2" fill="#f04c2e"/>
<text transform="translate(1179.6 425.8) scale(0.985 1)" font-size="33.3">ePTH</text>
</g>
<g id="panel-d">
<text transform="translate(1405 349.3)" font-size="50">d</text>
<g stroke="#000" stroke-width="5.6" fill="none">
<path d="M1561.8 766.4 H2040.7"/>
<path d="M1561.8 766.4 V345.9"/>
</g>
<path d="M1641.4 766.4 v16.4 M1720.7 766.4 v16.4 M1800 766.4 v16.4 M1879.3 766.4 v16.4 M1958.6 766.4 v16.4 M2037.9 766.4 v16.4 M1561.8 766.4 h-16.5 M1561.8 682.88 h-16.5 M1561.8 599.36 h-16.5 M1561.8 515.84 h-16.5 M1561.8 432.32 h-16.5 M1561.8 348.8 h-16.5" stroke="#000" stroke-width="5.8" fill="none"/>
<g class="ticks">
<text transform="translate(1641.4 812) scale(0.885 1)" font-size="34.3" font-weight="bold" text-anchor="middle">-12</text>
<text transform="translate(1720.7 812) scale(0.885 1)" font-size="34.3" font-weight="bold" text-anchor="middle">-11</text>
<text transform="translate(1800 812) scale(0.885 1)" font-size="34.3" font-weight="bold" text-anchor="middle">-10</text>
<text transform="translate(1879.3 812) scale(0.885 1)" font-size="34.3" font-weight="bold" text-anchor="middle">-9</text>
<text transform="translate(1958.6 812) scale(0.885 1)" font-size="34.3" font-weight="bold" text-anchor="middle">-8</text>
<text transform="translate(2037.9 812) scale(0.885 1)" font-size="34.3" font-weight="bold" text-anchor="middle">-7</text>
<text transform="translate(1545 777.98) scale(0.885 1)" font-size="34.3" font-weight="bold" text-anchor="end">0</text>
<text transform="translate(1545 694.46) scale(0.885 1)" font-size="34.3" font-weight="bold" text-anchor="end">25</text>
<text transform="translate(1545 610.94) scale(0.885 1)" font-size="34.3" font-weight="bold" text-anchor="end">50</text>
<text transform="translate(1545 527.42) scale(0.885 1)" font-size="34.3" font-weight="bold" text-anchor="end">75</text>
<text transform="translate(1545 443.9) scale(0.885 1)" font-size="34.3" font-weight="bold" text-anchor="end">100</text>
<text transform="translate(1545 360.38) scale(0.885 1)" font-size="34.3" font-weight="bold" text-anchor="end">125</text>
</g>
<polyline points="1616.02,766.34 1619.14,766.33 1622.26,766.32 1625.38,766.31 1628.5,766.3 1631.62,766.29 1634.74,766.28 1637.86,766.26 1640.98,766.25 1644.1,766.23 1647.22,766.21 1650.33,766.19 1653.45,766.16 1656.57,766.14 1659.69,766.11 1662.81,766.07 1665.93,766.03 1669.05,765.99 1672.17,765.95 1675.29,765.89 1678.41,765.84 1681.53,765.77 1684.64,765.7 1687.76,765.62 1690.88,765.53 1694,765.43 1697.12,765.32 1700.24,765.19 1703.36,765.06 1706.48,764.9 1709.6,764.73 1712.72,764.54 1715.84,764.33 1718.96,764.09 1722.07,763.83 1725.19,763.54 1728.31,763.22 1731.43,762.85 1734.55,762.45 1737.67,762.01 1740.79,761.51 1743.91,760.96 1747.03,760.34 1750.15,759.66 1753.27,758.91 1756.38,758.07 1759.5,757.14 1762.62,756.12 1765.74,754.98 1768.86,753.72 1771.98,752.33 1775.1,750.8 1778.22,749.11 1781.34,747.24 1784.46,745.2 1787.58,742.94 1790.7,740.48 1793.81,737.77 1796.93,734.82 1800.05,731.6 1803.17,728.1 1806.29,724.3 1809.41,720.18 1812.53,715.74 1815.65,710.97 1818.77,705.84 1821.89,700.37 1825.01,694.54 1828.13,688.36 1831.24,681.84 1834.36,674.99 1837.48,667.82 1840.6,660.37 1843.72,652.65 1846.84,644.71 1849.96,636.57 1853.08,628.29 1856.2,619.91 1859.32,611.48 1862.44,603.05 1865.55,594.66 1868.67,586.37 1871.79,578.22 1874.91,570.25 1878.03,562.51 1881.15,555.03 1884.27,547.83 1887.39,540.95 1890.51,534.39 1893.63,528.18 1896.75,522.32 1899.87,516.8 1902.98,511.65 1906.1,506.83 1909.22,502.36 1912.34,498.21 1915.46,494.38 1918.58,490.85 1921.7,487.6 1924.82,484.62 1927.94,481.89 1931.06,479.4 1934.18,477.13 1937.29,475.06 1940.41,473.18 1943.53,471.47 1946.65,469.92 1949.77,468.52 1952.89,467.25 1956.01,466.1 1959.13,465.06 1962.25,464.12 1965.37,463.28 1968.49,462.52 1971.61,461.83 1974.72,461.21 1977.84,460.65 1980.96,460.15 1984.08,459.7 1987.2,459.29 1990.32,458.93" fill="none" stroke="#f04c2e" stroke-width="6.5" stroke-linecap="round" stroke-linejoin="round"/>
<path d="M1823.79 712.95 V679.54 M1813.59 712.95 h20.4 M1813.59 679.54 h20.4 M1879.3 592.68 V525.86 M1869.1 592.68 h20.4 M1869.1 525.86 h20.4 M1990.32 480.76 V432.32 M1980.12 480.76 h20.4 M1980.12 432.32 h20.4" stroke="#f04c2e" stroke-width="3.7" fill="none"/>
<g fill="#f04c2e"><circle cx="1657.26" cy="767.4" r="8.2"/><circle cx="1712.77" cy="764.73" r="8.2"/><circle cx="1768.28" cy="756.38" r="8.2"/><circle cx="1823.79" cy="696.24" r="8.2"/><circle cx="1879.3" cy="559.27" r="8.2"/><circle cx="1934.81" cy="487.44" r="8.2"/><circle cx="1990.32" cy="457.38" r="8.2"/></g>
<polyline points="1617.61,765.28 1620.25,765.18 1622.9,765.06 1625.54,764.93 1628.18,764.79 1630.83,764.63 1633.47,764.47 1636.11,764.28 1638.76,764.08 1641.4,763.85 1644.04,763.61 1646.69,763.34 1649.33,763.05 1651.97,762.73 1654.62,762.38 1657.26,762 1659.9,761.58 1662.55,761.12 1665.19,760.62 1667.83,760.07 1670.48,759.48 1673.12,758.82 1675.76,758.11 1678.41,757.33 1681.05,756.48 1683.69,755.55 1686.34,754.54 1688.98,753.44 1691.62,752.24 1694.27,750.93 1696.91,749.51 1699.55,747.97 1702.2,746.29 1704.84,744.47 1707.48,742.5 1710.13,740.37 1712.77,738.06 1715.41,735.56 1718.06,732.87 1720.7,729.97 1723.34,726.85 1725.99,723.51 1728.63,719.92 1731.27,716.07 1733.92,711.97 1736.56,707.6 1739.2,702.96 1741.85,698.03 1744.49,692.81 1747.13,687.32 1749.78,681.53 1752.42,675.47 1755.06,669.13 1757.71,662.52 1760.35,655.66 1762.99,648.57 1765.64,641.25 1768.28,633.75 1770.92,626.07 1773.57,618.25 1776.21,610.31 1778.85,602.3 1781.5,594.24 1784.14,586.16 1786.78,578.11 1789.43,570.11 1792.07,562.19 1794.71,554.4 1797.36,546.75 1800,539.28 1802.64,532.01 1805.29,524.96 1807.93,518.15 1810.57,511.6 1813.22,505.31 1815.86,499.3 1818.5,493.58 1821.15,488.14 1823.79,482.98 1826.43,478.11 1829.08,473.52 1831.72,469.2 1834.36,465.15 1837.01,461.36 1839.65,457.82 1842.29,454.52 1844.94,451.45 1847.58,448.59 1850.22,445.94 1852.87,443.48 1855.51,441.21 1858.15,439.11 1860.8,437.17 1863.44,435.38 1866.08,433.73 1868.73,432.21 1871.37,430.81 1874.01,429.53 1876.66,428.35 1879.3,427.27 1881.94,426.27 1884.59,425.36 1887.23,424.53 1889.87,423.76 1892.52,423.06 1895.16,422.42 1897.8,421.83 1900.45,421.29 1903.09,420.8 1905.73,420.35 1908.38,419.94 1911.02,419.56 1913.66,419.22 1916.31,418.9 1918.95,418.62 1921.59,418.36 1924.24,418.12 1926.88,417.9 1929.52,417.7 1932.17,417.52 1934.81,417.35" fill="none" stroke="#4a72c4" stroke-width="6.5" stroke-linecap="round" stroke-linejoin="round"/>
<path d="M1768.28 638.78 V616.06 M1758.08 638.78 h20.4 M1758.08 616.06 h20.4 M1823.79 505.82 V480.09 M1813.59 505.82 h20.4 M1813.59 480.09 h20.4 M1879.3 426.97 V378.2 M1869.1 426.97 h20.4 M1869.1 378.2 h20.4 M1934.81 445.68 V417.95 M1924.61 445.68 h20.4 M1924.61 417.95 h20.4" stroke="#4a72c4" stroke-width="3.7" fill="none"/>
<g fill="#4a72c4"><circle cx="1601.75" cy="765.4" r="8.2"/><circle cx="1657.26" cy="761.39" r="8.2"/><circle cx="1712.77" cy="743.01" r="8.2"/><circle cx="1768.28" cy="627.76" r="8.2"/><circle cx="1823.79" cy="492.45" r="8.2"/><circle cx="1879.3" cy="402.25" r="8.2"/><circle cx="1934.81" cy="432.32" r="8.2"/></g>
<text transform="translate(1477.3 567.7) rotate(-90)" font-size="34.5" font-weight="bold" text-anchor="middle" textLength="412.6" lengthAdjust="spacingAndGlyphs">[cAMP] (% of wt PTH(1-34))</text>
<text transform="translate(1795.4 850.6)" font-size="34.5" font-weight="bold" text-anchor="middle" textLength="228.8" lengthAdjust="spacingAndGlyphs">[ligand], log (M)</text>
<path d="M1584.65 363.3 H1628.25" stroke="#4a72c4" stroke-width="6.5" stroke-linecap="round" fill="none"/>
<circle cx="1606.45" cy="363.3" r="8.2" fill="#4a72c4"/>
<text transform="translate(1654 374.4) scale(0.985 1)" font-size="33.3">wtPTH(1-34)</text>
<path d="M1584.65 416.5 H1628.25" stroke="#f04c2e" stroke-width="6.5" stroke-linecap="round" fill="none"/>
<circle cx="1606.45" cy="416.5" r="8.2" fill="#f04c2e"/>
<text transform="translate(1654 427.6) scale(0.985 1)" font-size="33.3">ePTH</text>
</g>
<g id="panel-e">
<text transform="translate(-0.8 903.2)" font-size="50">e</text>
<g stroke="#000" stroke-width="5.6" fill="none">
<path d="M154.7 1341 H664.9"/>
<path d="M157.5 1357.3 V918.5"/>
</g>
<path d="M258.42 1341 v16.3 M359.34 1341 v16.3 M460.26 1341 v16.3 M561.18 1341 v16.3 M662.1 1341 v16.3 M157.5 1341 h-15.5 M157.5 1257.08 h-15.5 M157.5 1173.16 h-15.5 M157.5 1089.24 h-15.5 M157.5 1005.32 h-15.5 M157.5 921.4 h-15.5" stroke="#000" stroke-width="5.8" fill="none"/>
<g class="ticks">
<text transform="translate(157.5 1386.7) scale(0.885 1)" font-size="34.3" font-weight="bold" text-anchor="middle">-10</text>
<text transform="translate(258.42 1386.7) scale(0.885 1)" font-size="34.3" font-weight="bold" text-anchor="middle">-9</text>
<text transform="translate(359.34 1386.7) scale(0.885 1)" font-size="34.3" font-weight="bold" text-anchor="middle">-8</text>
<text transform="translate(460.26 1386.7) scale(0.885 1)" font-size="34.3" font-weight="bold" text-anchor="middle">-7</text>
<text transform="translate(561.18 1386.7) scale(0.885 1)" font-size="34.3" font-weight="bold" text-anchor="middle">-6</text>
<text transform="translate(662.1 1386.7) scale(0.885 1)" font-size="34.3" font-weight="bold" text-anchor="middle">-5</text>
<text transform="translate(140.8 1352.58) scale(0.885 1)" font-size="34.3" font-weight="bold" text-anchor="end">0</text>
<text transform="translate(140.8 1268.66) scale(0.885 1)" font-size="34.3" font-weight="bold" text-anchor="end">25</text>
<text transform="translate(140.8 1184.74) scale(0.885 1)" font-size="34.3" font-weight="bold" text-anchor="end">50</text>
<text transform="translate(140.8 1100.82) scale(0.885 1)" font-size="34.3" font-weight="bold" text-anchor="end">75</text>
<text transform="translate(140.8 1016.9) scale(0.885 1)" font-size="34.3" font-weight="bold" text-anchor="end">100</text>
<text transform="translate(140.8 932.98) scale(0.885 1)" font-size="34.3" font-weight="bold" text-anchor="end">125</text>
</g>
<polyline points="157.5,1314.13 161.28,1314.13 165.07,1314.12 168.85,1314.12 172.64,1314.11 176.42,1314.11 180.21,1314.1 183.99,1314.1 187.78,1314.09 191.56,1314.08 195.35,1314.06 199.13,1314.05 202.91,1314.03 206.7,1314.01 210.48,1313.99 214.27,1313.96 218.05,1313.93 221.84,1313.89 225.62,1313.84 229.41,1313.79 233.19,1313.72 236.97,1313.65 240.76,1313.56 244.54,1313.45 248.33,1313.33 252.11,1313.19 255.9,1313.01 259.68,1312.81 263.47,1312.58 267.25,1312.3 271.04,1311.97 274.82,1311.59 278.6,1311.14 282.39,1310.61 286.17,1309.99 289.96,1309.26 293.74,1308.41 297.53,1307.41 301.31,1306.24 305.1,1304.88 308.88,1303.29 312.66,1301.44 316.45,1299.3 320.23,1296.82 324.02,1293.95 327.8,1290.65 331.59,1286.86 335.37,1282.55 339.16,1277.64 342.94,1272.11 346.73,1265.9 350.51,1258.99 354.29,1251.35 358.08,1242.98 361.86,1233.91 365.65,1224.18 369.43,1213.86 373.22,1203.05 377,1191.85 380.79,1180.41 384.57,1168.88 388.35,1157.41 392.14,1146.16 395.92,1135.25 399.71,1124.83 403.49,1114.97 407.28,1105.77 411.06,1097.26 414.85,1089.48 418.63,1082.42 422.42,1076.07 426.2,1070.4 429.98,1065.38 433.77,1060.95 437.55,1057.06 441.34,1053.67 445.12,1050.72 448.91,1048.16 452.69,1045.95 456.48,1044.05 460.26,1042.41 464.04,1041 467.83,1039.8 471.61,1038.77 475.4,1037.89 479.18,1037.14 482.97,1036.5 486.75,1035.95 490.54,1035.49 494.32,1035.09 498.11,1034.75 501.89,1034.47 505.67,1034.22 509.46,1034.01 513.24,1033.84 517.03,1033.69 520.81,1033.56 524.6,1033.45 528.38,1033.36 532.17,1033.28 535.95,1033.22 539.73,1033.16 543.52,1033.11 547.3,1033.07 551.09,1033.04 554.87,1033.01 558.66,1032.98 562.44,1032.96 566.23,1032.95 570.01,1032.93 573.8,1032.92 577.58,1032.91 581.36,1032.9 585.15,1032.89 588.93,1032.88 592.72,1032.88 596.5,1032.87 600.29,1032.87 604.07,1032.87 607.86,1032.86 611.64,1032.86" fill="none" stroke="#f04c2e" stroke-width="6.5" stroke-linecap="round" stroke-linejoin="round"/>
<path d="M177.68 1326.9 V1302.73 M167.48 1326.9 h20.4 M167.48 1302.73 h20.4 M228.14 1330.26 V1307.43 M217.94 1330.26 h20.4 M217.94 1307.43 h20.4 M278.6 1322.87 V1297.7 M268.4 1322.87 h20.4 M268.4 1297.7 h20.4 M329.06 1309.45 V1268.49 M318.86 1309.45 h20.4 M318.86 1268.49 h20.4 M369.43 1238.62 V1185.92 M359.23 1238.62 h20.4 M359.23 1185.92 h20.4 M419.89 1120.12 V1064.74 M409.69 1120.12 h20.4 M409.69 1064.74 h20.4 M470.35 1020.76 V994.58 M460.15 1020.76 h20.4 M460.15 994.58 h20.4 M561.18 1075.14 V1043.59 M550.98 1075.14 h20.4 M550.98 1043.59 h20.4 M611.64 1055 V1031.5 M601.44 1055 h20.4 M601.44 1031.5 h20.4" stroke="#f04c2e" stroke-width="3.7" fill="none"/>
<g fill="#f04c2e"><circle cx="177.68" cy="1314.82" r="8.2"/><circle cx="228.14" cy="1320.52" r="8.2"/><circle cx="278.6" cy="1310.12" r="8.2"/><circle cx="329.06" cy="1288.63" r="8.2"/><circle cx="369.43" cy="1212.43" r="8.2"/><circle cx="419.89" cy="1092.93" r="8.2"/><circle cx="470.35" cy="1008.01" r="8.2"/><circle cx="520.81" cy="1020.76" r="8.2"/><circle cx="561.18" cy="1058.69" r="8.2"/><circle cx="611.64" cy="1043.25" r="8.2"/></g>
<polyline points="157.5,1300.5 161.28,1300.47 165.07,1300.44 168.85,1300.4 172.64,1300.36 176.42,1300.32 180.21,1300.27 183.99,1300.22 187.78,1300.15 191.56,1300.09 195.35,1300.01 199.13,1299.92 202.91,1299.82 206.7,1299.71 210.48,1299.59 214.27,1299.45 218.05,1299.29 221.84,1299.12 225.62,1298.92 229.41,1298.7 233.19,1298.45 236.97,1298.17 240.76,1297.86 244.54,1297.51 248.33,1297.12 252.11,1296.68 255.9,1296.19 259.68,1295.64 263.47,1295.02 267.25,1294.34 271.04,1293.57 274.82,1292.71 278.6,1291.75 282.39,1290.68 286.17,1289.49 289.96,1288.16 293.74,1286.68 297.53,1285.05 301.31,1283.23 305.1,1281.21 308.88,1278.99 312.66,1276.53 316.45,1273.83 320.23,1270.85 324.02,1267.59 327.8,1264.03 331.59,1260.14 335.37,1255.92 339.16,1251.35 342.94,1246.41 346.73,1241.11 350.51,1235.44 354.29,1229.41 358.08,1223.01 361.86,1216.27 365.65,1209.21 369.43,1201.85 373.22,1194.22 377,1186.38 380.79,1178.35 384.57,1170.2 388.35,1161.98 392.14,1153.73 395.92,1145.53 399.71,1137.41 403.49,1129.44 407.28,1121.67 411.06,1114.13 414.85,1106.86 418.63,1099.9 422.42,1093.28 426.2,1087 429.98,1081.08 433.77,1075.54 437.55,1070.36 441.34,1065.55 445.12,1061.09 448.91,1056.99 452.69,1053.21 456.48,1049.75 460.26,1046.58 464.04,1043.7 467.83,1041.08 471.61,1038.7 475.4,1036.55 479.18,1034.6 482.97,1032.85 486.75,1031.26 490.54,1029.84 494.32,1028.56 498.11,1027.41 501.89,1026.38 505.67,1025.45 509.46,1024.63 513.24,1023.88 517.03,1023.22 520.81,1022.63 524.6,1022.1 528.38,1021.63 532.17,1021.2 535.95,1020.83 539.73,1020.49 543.52,1020.19 547.3,1019.92 551.09,1019.68 554.87,1019.47 558.66,1019.28 562.44,1019.11 566.23,1018.96 570.01,1018.83 573.8,1018.71 577.58,1018.6 581.36,1018.51 585.15,1018.42 588.93,1018.35 592.72,1018.28 596.5,1018.22 600.29,1018.17 604.07,1018.12 607.86,1018.08 611.64,1018.04" fill="none" stroke="#4a72c4" stroke-width="6.5" stroke-linecap="round" stroke-linejoin="round"/>
<path d="M177.68 1315.15 V1282.93 M167.48 1315.15 h20.4 M167.48 1282.93 h20.4 M228.14 1315.82 V1285.28 M217.94 1315.82 h20.4 M217.94 1285.28 h20.4 M278.6 1308.44 V1272.19 M268.4 1308.44 h20.4 M268.4 1272.19 h20.4 M329.06 1292.33 V1242.31 M318.86 1292.33 h20.4 M318.86 1242.31 h20.4 M369.43 1220.49 V1166.45 M359.23 1220.49 h20.4 M359.23 1166.45 h20.4 M419.89 1138.92 V1097.3 M409.69 1138.92 h20.4 M409.69 1097.3 h20.4 M470.35 1042.24 V1008.01 M460.15 1042.24 h20.4 M460.15 1008.01 h20.4 M520.81 1060.71 V1005.32 M510.61 1060.71 h20.4 M510.61 1005.32 h20.4 M561.18 1047.95 V1020.76 M550.98 1047.95 h20.4 M550.98 1020.76 h20.4" stroke="#4a72c4" stroke-width="3.7" fill="none"/>
<g fill="#4a72c4"><circle cx="177.68" cy="1298.7" r="8.2"/><circle cx="228.14" cy="1300.38" r="8.2"/><circle cx="278.6" cy="1290.31" r="8.2"/><circle cx="329.06" cy="1268.49" r="8.2"/><circle cx="369.43" cy="1193.3" r="8.2"/><circle cx="419.89" cy="1118.44" r="8.2"/><circle cx="470.35" cy="1026.8" r="8.2"/><circle cx="520.81" cy="1034.19" r="8.2"/><circle cx="561.18" cy="1034.19" r="8.2"/><circle cx="611.64" cy="1005.66" r="8.2"/></g>
<text transform="translate(77.4 1139.45) rotate(-90)" font-size="34.5" font-weight="bold" text-anchor="middle" textLength="369.1" lengthAdjust="spacingAndGlyphs">[IP1] (% of wt PTH(1-34))</text>
<text transform="translate(405.75 1431)" font-size="34.5" font-weight="bold" text-anchor="middle" textLength="228.9" lengthAdjust="spacingAndGlyphs">[ligand], log (M)</text>
<path d="M196.25 938.6 H239.85" stroke="#4a72c4" stroke-width="6.5" stroke-linecap="round" fill="none"/>
<circle cx="218.05" cy="938.6" r="8.2" fill="#4a72c4"/>
<text transform="translate(266 949.7) scale(0.985 1)" font-size="33.3">wtPTH(1-34)</text>
<path d="M196.25 984 H239.85" stroke="#f04c2e" stroke-width="6.5" stroke-linecap="round" fill="none"/>
<circle cx="218.05" cy="984" r="8.2" fill="#f04c2e"/>
<text transform="translate(266 995.1) scale(0.985 1)" font-size="33.3">ePTH</text>
</g>
<g id="panel-f">
<text transform="translate(713 903.2)" font-size="50">f</text>
<g stroke="#000" stroke-width="5.6" fill="none">
<path d="M854.1 1343.7 H1335"/>
<path d="M854.1 1343.7 V921.5"/>
</g>
<path d="M897.3 1343.7 v16.3 M984.28 1343.7 v16.3 M1071.26 1343.7 v16.3 M1158.24 1343.7 v16.3 M1245.22 1343.7 v16.3 M1332.2 1343.7 v16.3 M854.1 1311.2 h-16.2 M854.1 1246.73 h-16.2 M854.1 1182.27 h-16.2 M854.1 1117.8 h-16.2 M854.1 1053.33 h-16.2 M854.1 988.87 h-16.2 M854.1 924.4 h-16.2" stroke="#000" stroke-width="5.8" fill="none"/>
<g class="ticks">
<text transform="translate(897.3 1389.5) scale(0.885 1)" font-size="34.3" font-weight="bold" text-anchor="middle">-10</text>
<text transform="translate(984.28 1389.5) scale(0.885 1)" font-size="34.3" font-weight="bold" text-anchor="middle">-9</text>
<text transform="translate(1071.26 1389.5) scale(0.885 1)" font-size="34.3" font-weight="bold" text-anchor="middle">-8</text>
<text transform="translate(1158.24 1389.5) scale(0.885 1)" font-size="34.3" font-weight="bold" text-anchor="middle">-7</text>
<text transform="translate(1245.22 1389.5) scale(0.885 1)" font-size="34.3" font-weight="bold" text-anchor="middle">-6</text>
<text transform="translate(1332.2 1389.5) scale(0.885 1)" font-size="34.3" font-weight="bold" text-anchor="middle">-5</text>
<text transform="translate(837.4 1322.78) scale(0.885 1)" font-size="34.3" font-weight="bold" text-anchor="end">0</text>
<text transform="translate(837.4 1258.31) scale(0.885 1)" font-size="34.3" font-weight="bold" text-anchor="end">20</text>
<text transform="translate(837.4 1193.85) scale(0.885 1)" font-size="34.3" font-weight="bold" text-anchor="end">40</text>
<text transform="translate(837.4 1129.38) scale(0.885 1)" font-size="34.3" font-weight="bold" text-anchor="end">60</text>
<text transform="translate(837.4 1064.91) scale(0.885 1)" font-size="34.3" font-weight="bold" text-anchor="end">80</text>
<text transform="translate(837.4 1000.45) scale(0.885 1)" font-size="34.3" font-weight="bold" text-anchor="end">100</text>
<text transform="translate(837.4 935.98) scale(0.885 1)" font-size="34.3" font-weight="bold" text-anchor="end">120</text>
</g>
<polyline points="906,984.35 909.55,984.39 913.1,984.42 916.65,984.47 920.2,984.51 923.76,984.56 927.31,984.62 930.86,984.68 934.41,984.75 937.96,984.82 941.51,984.9 945.07,984.99 948.62,985.09 952.17,985.2 955.72,985.33 959.27,985.46 962.82,985.61 966.38,985.78 969.93,985.96 973.48,986.16 977.03,986.38 980.58,986.62 984.14,986.89 987.69,987.19 991.24,987.52 994.79,987.88 998.34,988.28 1001.89,988.72 1005.45,989.2 1009,989.73 1012.55,990.32 1016.1,990.97 1019.65,991.68 1023.2,992.46 1026.76,993.32 1030.31,994.26 1033.86,995.3 1037.41,996.44 1040.96,997.69 1044.51,999.06 1048.07,1000.56 1051.62,1002.2 1055.17,1004 1058.72,1005.96 1062.27,1008.09 1065.82,1010.42 1069.38,1012.96 1072.93,1015.71 1076.48,1018.7 1080.03,1021.94 1083.58,1025.43 1087.13,1029.21 1090.69,1033.27 1094.24,1037.63 1097.79,1042.3 1101.34,1047.29 1104.89,1052.61 1108.44,1058.26 1112,1064.24 1115.55,1070.54 1119.1,1077.17 1122.65,1084.12 1126.2,1091.36 1129.75,1098.88 1133.31,1106.65 1136.86,1114.66 1140.41,1122.86 1143.96,1131.23 1147.51,1139.73 1151.06,1148.31 1154.62,1156.93 1158.17,1165.56 1161.72,1174.15 1165.27,1182.65 1168.82,1191.03 1172.37,1199.25 1175.93,1207.27 1179.48,1215.07 1183.03,1222.61 1186.58,1229.88 1190.13,1236.84 1193.68,1243.5 1197.24,1249.83 1200.79,1255.84 1204.34,1261.51 1207.89,1266.86 1211.44,1271.87 1214.99,1276.57 1218.55,1280.96 1222.1,1285.04 1225.65,1288.84 1229.2,1292.36 1232.75,1295.62 1236.3,1298.62 1239.86,1301.4 1243.41,1303.95 1246.96,1306.3 1250.51,1308.45 1254.06,1310.42 1257.61,1312.23 1261.17,1313.88 1264.72,1315.39 1268.27,1316.77 1271.82,1318.03 1275.37,1319.18 1278.92,1320.23 1282.48,1321.18 1286.03,1322.04 1289.58,1322.83 1293.13,1323.55 1296.68,1324.2 1300.23,1324.79 1303.79,1325.33 1307.34,1325.82 1310.89,1326.26 1314.44,1326.66 1317.99,1327.02 1321.54,1327.35 1325.1,1327.65 1328.65,1327.93 1332.2,1328.17" fill="none" stroke="#f04c2e" stroke-width="6.5" stroke-linecap="round" stroke-linejoin="round"/>
<path d="M1149.54 1151.97 V1124.25 M1139.34 1151.97 h20.4 M1139.34 1124.25 h20.4" stroke="#f04c2e" stroke-width="3.7" fill="none"/>
<g fill="#f04c2e"><circle cx="906" cy="994.02" r="8.2"/><circle cx="966.88" cy="988.54" r="8.2"/><circle cx="1027.77" cy="994.02" r="8.2"/><circle cx="1088.66" cy="1021.1" r="8.2"/><circle cx="1149.54" cy="1138.11" r="8.2"/><circle cx="1210.43" cy="1303.14" r="8.2"/><circle cx="1271.31" cy="1312.17" r="8.2"/><circle cx="1332.2" cy="1311.2" r="8.2"/></g>
<polyline points="906,983.59 909.55,983.71 913.1,983.84 916.65,983.98 920.2,984.14 923.76,984.32 927.31,984.51 930.86,984.73 934.41,984.96 937.96,985.22 941.51,985.51 945.07,985.82 948.62,986.17 952.17,986.55 955.72,986.96 959.27,987.42 962.82,987.93 966.38,988.49 969.93,989.1 973.48,989.77 977.03,990.51 980.58,991.32 984.14,992.2 987.69,993.18 991.24,994.24 994.79,995.41 998.34,996.69 1001.89,998.09 1005.45,999.62 1009,1001.29 1012.55,1003.11 1016.1,1005.09 1019.65,1007.25 1023.2,1009.6 1026.76,1012.15 1030.31,1014.91 1033.86,1017.9 1037.41,1021.13 1040.96,1024.62 1044.51,1028.37 1048.07,1032.4 1051.62,1036.72 1055.17,1041.33 1058.72,1046.25 1062.27,1051.49 1065.82,1057.03 1069.38,1062.89 1072.93,1069.06 1076.48,1075.54 1080.03,1082.31 1083.58,1089.35 1087.13,1096.67 1090.69,1104.22 1094.24,1111.99 1097.79,1119.94 1101.34,1128.04 1104.89,1136.27 1108.44,1144.57 1112,1152.92 1115.55,1161.26 1119.1,1169.57 1122.65,1177.8 1126.2,1185.92 1129.75,1193.89 1133.31,1201.67 1136.86,1209.24 1140.41,1216.57 1143.96,1223.64 1147.51,1230.44 1151.06,1236.93 1154.62,1243.13 1158.17,1249.01 1161.72,1254.59 1165.27,1259.84 1168.82,1264.79 1172.37,1269.43 1175.93,1273.77 1179.48,1277.82 1183.03,1281.6 1186.58,1285.11 1190.13,1288.36 1193.68,1291.37 1197.24,1294.15 1200.79,1296.72 1204.34,1299.08 1207.89,1301.25 1211.44,1303.25 1214.99,1305.08 1218.55,1306.77 1222.1,1308.31 1225.65,1309.71 1229.2,1311 1232.75,1312.18 1236.3,1313.25 1239.86,1314.23 1243.41,1315.13 1246.96,1315.94 1250.51,1316.69 1254.06,1317.36 1257.61,1317.98 1261.17,1318.54 1264.72,1319.05 1268.27,1319.51 1271.82,1319.93 1275.37,1320.32 1278.92,1320.67 1282.48,1320.98 1286.03,1321.27 1289.58,1321.53 1293.13,1321.77 1296.68,1321.98 1300.23,1322.18 1303.79,1322.36 1307.34,1322.52 1310.89,1322.66 1314.44,1322.8 1317.99,1322.92 1321.54,1323.03 1325.1,1323.12 1328.65,1323.21 1332.2,1323.3" fill="none" stroke="#4a72c4" stroke-width="6.5" stroke-linecap="round" stroke-linejoin="round"/>
<path d="M1027.77 1012.72 V994.02 M1017.57 1012.72 h20.4 M1017.57 994.02 h20.4 M1088.66 1091.69 V1071.71 M1078.46 1091.69 h20.4 M1078.46 1071.71 h20.4" stroke="#4a72c4" stroke-width="3.7" fill="none"/>
<g fill="#4a72c4"><circle cx="906" cy="991.12" r="8.2"/><circle cx="966.88" cy="996.28" r="8.2"/><circle cx="1027.77" cy="1003.69" r="8.2"/><circle cx="1088.66" cy="1081.38" r="8.2"/><circle cx="1149.54" cy="1261.56" r="8.2"/><circle cx="1210.43" cy="1309.59" r="8.2"/><circle cx="1271.31" cy="1309.91" r="8.2"/><circle cx="1332.2" cy="1311.2" r="8.2"/></g>
<text transform="translate(765.8 1141.85) rotate(-90)" font-size="34.5" font-weight="bold" text-anchor="middle" textLength="298.7" lengthAdjust="spacingAndGlyphs">specific binding (%)</text>
<text transform="translate(1129.65 1432.7)" font-size="34.5" font-weight="bold" text-anchor="middle" textLength="213.7" lengthAdjust="spacingAndGlyphs">[ePTH], log(M)</text>
<path d="M1148.05 944.9 H1192.55" stroke="#4a72c4" stroke-width="6.5" stroke-linecap="round" fill="none"/>
<circle cx="1170.3" cy="944.9" r="8.2" fill="#4a72c4"/>
<text transform="translate(1218.6 956) scale(0.985 1)" font-size="33.3">PTH1R</text>
<path d="M1148.05 995.5 H1192.55" stroke="#f04c2e" stroke-width="6.5" stroke-linecap="round" fill="none"/>
<circle cx="1170.3" cy="995.5" r="8.2" fill="#f04c2e"/>
<text transform="translate(1218.6 1002.6) scale(0.985 1)" font-size="33.3">PTH1R<tspan dx="4.5" dy="11.5">XTAL</tspan></text>
</g>
<g id="panel-g">
<text transform="translate(1405.2 903.6)" font-size="50">g</text>
<g stroke="#000" stroke-width="5.6" fill="none">
<path d="M1556.5 1341.85 H2036.5"/>
<path d="M1556.5 1341.85 V920.4"/>
</g>
<path d="M1599.85 1341.85 v16.2 M1686.62 1341.85 v16.2 M1773.39 1341.85 v16.2 M1860.16 1341.85 v16.2 M1946.93 1341.85 v16.2 M2033.7 1341.85 v16.2 M1556.5 1309.4 h-16.3 M1556.5 1245.05 h-16.3 M1556.5 1180.7 h-16.3 M1556.5 1116.35 h-16.3 M1556.5 1052 h-16.3 M1556.5 987.65 h-16.3 M1556.5 923.3 h-16.3" stroke="#000" stroke-width="5.8" fill="none"/>
<g class="ticks">
<text transform="translate(1599.85 1387.5) scale(0.885 1)" font-size="34.3" font-weight="bold" text-anchor="middle">-10</text>
<text transform="translate(1686.62 1387.5) scale(0.885 1)" font-size="34.3" font-weight="bold" text-anchor="middle">-9</text>
<text transform="translate(1773.39 1387.5) scale(0.885 1)" font-size="34.3" font-weight="bold" text-anchor="middle">-8</text>
<text transform="translate(1860.16 1387.5) scale(0.885 1)" font-size="34.3" font-weight="bold" text-anchor="middle">-7</text>
<text transform="translate(1946.93 1387.5) scale(0.885 1)" font-size="34.3" font-weight="bold" text-anchor="middle">-6</text>
<text transform="translate(2033.7 1387.5) scale(0.885 1)" font-size="34.3" font-weight="bold" text-anchor="middle">-5</text>
<text transform="translate(1539.8 1320.98) scale(0.885 1)" font-size="34.3" font-weight="bold" text-anchor="end">0</text>
<text transform="translate(1539.8 1256.63) scale(0.885 1)" font-size="34.3" font-weight="bold" text-anchor="end">20</text>
<text transform="translate(1539.8 1192.28) scale(0.885 1)" font-size="34.3" font-weight="bold" text-anchor="end">40</text>
<text transform="translate(1539.8 1127.93) scale(0.885 1)" font-size="34.3" font-weight="bold" text-anchor="end">60</text>
<text transform="translate(1539.8 1063.58) scale(0.885 1)" font-size="34.3" font-weight="bold" text-anchor="end">80</text>
<text transform="translate(1539.8 999.23) scale(0.885 1)" font-size="34.3" font-weight="bold" text-anchor="end">100</text>
<text transform="translate(1539.8 934.88) scale(0.885 1)" font-size="34.3" font-weight="bold" text-anchor="end">120</text>
</g>
<polyline points="1608.53,989.1 1612.07,989.24 1615.61,989.4 1619.16,989.57 1622.7,989.76 1626.24,989.97 1629.79,990.19 1633.33,990.44 1636.87,990.72 1640.41,991.02 1643.96,991.34 1647.5,991.7 1651.04,992.1 1654.59,992.53 1658.13,993 1661.67,993.52 1665.22,994.09 1668.76,994.71 1672.3,995.39 1675.85,996.13 1679.39,996.94 1682.93,997.83 1686.48,998.8 1690.02,999.86 1693.56,1001.01 1697.1,1002.27 1700.65,1003.64 1704.19,1005.13 1707.73,1006.75 1711.28,1008.52 1714.82,1010.43 1718.36,1012.51 1721.91,1014.75 1725.45,1017.18 1728.99,1019.81 1732.54,1022.64 1736.08,1025.69 1739.62,1028.96 1743.17,1032.48 1746.71,1036.24 1750.25,1040.26 1753.79,1044.54 1757.34,1049.09 1760.88,1053.92 1764.42,1059.03 1767.97,1064.41 1771.51,1070.07 1775.05,1075.99 1778.6,1082.18 1782.14,1088.62 1785.68,1095.29 1789.23,1102.18 1792.77,1109.27 1796.31,1116.53 1799.85,1123.93 1803.4,1131.45 1806.94,1139.05 1810.48,1146.71 1814.03,1154.38 1817.57,1162.04 1821.11,1169.65 1824.66,1177.18 1828.2,1184.6 1831.74,1191.87 1835.29,1198.98 1838.83,1205.89 1842.37,1212.59 1845.92,1219.05 1849.46,1225.26 1853,1231.22 1856.54,1236.9 1860.09,1242.31 1863.63,1247.45 1867.17,1252.3 1870.72,1256.89 1874.26,1261.2 1877.8,1265.24 1881.35,1269.03 1884.89,1272.57 1888.43,1275.87 1891.98,1278.94 1895.52,1281.79 1899.06,1284.43 1902.6,1286.88 1906.15,1289.15 1909.69,1291.24 1913.23,1293.17 1916.78,1294.95 1920.32,1296.58 1923.86,1298.09 1927.41,1299.47 1930.95,1300.74 1934.49,1301.91 1938.04,1302.97 1941.58,1303.95 1945.12,1304.85 1948.67,1305.67 1952.21,1306.42 1955.75,1307.1 1959.29,1307.73 1962.84,1308.3 1966.38,1308.82 1969.92,1309.3 1973.47,1309.74 1977.01,1310.14 1980.55,1310.5 1984.1,1310.83 1987.64,1311.13 1991.18,1311.41 1994.73,1311.66 1998.27,1311.89 2001.81,1312.09 2005.36,1312.29 2008.9,1312.46 2012.44,1312.62 2015.98,1312.76 2019.53,1312.89 2023.07,1313.01 2026.61,1313.12 2030.16,1313.22 2033.7,1313.31" fill="none" stroke="#f04c2e" stroke-width="6.5" stroke-linecap="round" stroke-linejoin="round"/>
<path d="M1608.53 1015.64 V998.27 M1598.33 1015.64 h20.4 M1598.33 998.27 h20.4" stroke="#f04c2e" stroke-width="3.7" fill="none"/>
<g fill="#f04c2e"><circle cx="1608.53" cy="1007.28" r="8.2"/><circle cx="1669.27" cy="989.26" r="8.2"/><circle cx="1730.01" cy="1010.17" r="8.2"/><circle cx="1790.74" cy="1102.19" r="8.2"/><circle cx="1851.48" cy="1240.87" r="8.2"/><circle cx="1912.22" cy="1293.96" r="8.2"/><circle cx="1972.96" cy="1305.54" r="8.2"/><circle cx="2033.7" cy="1309.4" r="8.2"/></g>
<polyline points="1608.53,986.4 1612.07,986.75 1615.61,987.13 1619.16,987.55 1622.7,988.01 1626.24,988.51 1629.79,989.06 1633.33,989.66 1636.87,990.32 1640.41,991.04 1643.96,991.83 1647.5,992.69 1651.04,993.63 1654.59,994.66 1658.13,995.78 1661.67,997 1665.22,998.34 1668.76,999.79 1672.3,1001.36 1675.85,1003.08 1679.39,1004.94 1682.93,1006.96 1686.48,1009.15 1690.02,1011.52 1693.56,1014.08 1697.1,1016.85 1700.65,1019.83 1704.19,1023.03 1707.73,1026.47 1711.28,1030.15 1714.82,1034.09 1718.36,1038.3 1721.91,1042.77 1725.45,1047.52 1728.99,1052.55 1732.54,1057.86 1736.08,1063.45 1739.62,1069.32 1743.17,1075.45 1746.71,1081.84 1750.25,1088.47 1753.79,1095.33 1757.34,1102.4 1760.88,1109.66 1764.42,1117.07 1767.97,1124.62 1771.51,1132.26 1775.05,1139.97 1778.6,1147.72 1782.14,1155.47 1785.68,1163.18 1789.23,1170.82 1792.77,1178.37 1796.31,1185.78 1799.85,1193.04 1803.4,1200.11 1806.94,1206.97 1810.48,1213.6 1814.03,1219.99 1817.57,1226.13 1821.11,1231.99 1824.66,1237.58 1828.2,1242.89 1831.74,1247.92 1835.29,1252.67 1838.83,1257.14 1842.37,1261.35 1845.92,1265.29 1849.46,1268.97 1853,1272.41 1856.54,1275.62 1860.09,1278.59 1863.63,1281.36 1867.17,1283.92 1870.72,1286.29 1874.26,1288.48 1877.8,1290.5 1881.35,1292.36 1884.89,1294.08 1888.43,1295.66 1891.98,1297.11 1895.52,1298.44 1899.06,1299.66 1902.6,1300.78 1906.15,1301.81 1909.69,1302.75 1913.23,1303.61 1916.78,1304.4 1920.32,1305.12 1923.86,1305.78 1927.41,1306.38 1930.95,1306.93 1934.49,1307.43 1938.04,1307.89 1941.58,1308.31 1945.12,1308.69 1948.67,1309.04 1952.21,1309.36 1955.75,1309.65 1959.29,1309.91 1962.84,1310.15 1966.38,1310.37 1969.92,1310.57 1973.47,1310.76 1977.01,1310.92 1980.55,1311.07 1984.1,1311.21 1987.64,1311.34 1991.18,1311.45 1994.73,1311.56 1998.27,1311.65 2001.81,1311.74 2005.36,1311.82 2008.9,1311.89 2012.44,1311.95 2015.98,1312.01 2019.53,1312.07 2023.07,1312.12 2026.61,1312.16 2030.16,1312.2 2033.7,1312.24" fill="none" stroke="#4a72c4" stroke-width="6.5" stroke-linecap="round" stroke-linejoin="round"/>
<path d="M1669.27 1011.78 V988.29 M1659.07 1011.78 h20.4 M1659.07 988.29 h20.4" stroke="#4a72c4" stroke-width="3.7" fill="none"/>
<g fill="#4a72c4"><circle cx="1608.53" cy="992.15" r="8.2"/><circle cx="1669.27" cy="999.23" r="8.2"/><circle cx="1730.01" cy="1040.74" r="8.2"/><circle cx="1790.74" cy="1178.13" r="8.2"/><circle cx="1851.48" cy="1276.9" r="8.2"/><circle cx="1912.22" cy="1301.03" r="8.2"/><circle cx="1972.96" cy="1307.79" r="8.2"/><circle cx="2033.7" cy="1309.4" r="8.2"/></g>
<text transform="translate(1477.2 1140.05) rotate(-90)" font-size="34.5" font-weight="bold" text-anchor="middle" textLength="299.5" lengthAdjust="spacingAndGlyphs">specific binding (%)</text>
<text transform="translate(1807.15 1432)" font-size="34.5" font-weight="bold" text-anchor="middle" textLength="319.7" lengthAdjust="spacingAndGlyphs">[wtPTH(1-34)], log(M)</text>
<path d="M1823.25 943.2 H1866.75" stroke="#4a72c4" stroke-width="6.5" stroke-linecap="round" fill="none"/>
<circle cx="1845" cy="943.2" r="8.2" fill="#4a72c4"/>
<text transform="translate(1894 954.3) scale(0.985 1)" font-size="33.3">PTH1R</text>
<path d="M1823.25 994.6 H1866.75" stroke="#f04c2e" stroke-width="6.5" stroke-linecap="round" fill="none"/>
<circle cx="1845" cy="994.6" r="8.2" fill="#f04c2e"/>
<text transform="translate(1894 1001.5) scale(0.985 1)" font-size="33.3">PTH1R<tspan dx="4.5" dy="11.5">XTAL</tspan></text>
</g>
<g id="panel-h">
<text transform="translate(-0.8 1504)" font-size="50">h</text>
<g stroke="#000" stroke-width="5.6" fill="none">
<path d="M155.1 1945.8 H666.6"/>
<path d="M157.9 1962 V1524"/>
</g>
<path d="M242.3 1945.8 v16.2 M326.6 1945.8 v16.2 M410.9 1945.8 v16.2 M495.2 1945.8 v16.2 M579.5 1945.8 v16.2 M663.8 1945.8 v16.2 M157.9 1945.9 h-15 M157.9 1862.1 h-15 M157.9 1778.3 h-15 M157.9 1694.5 h-15 M157.9 1610.7 h-15 M157.9 1526.9 h-15" stroke="#000" stroke-width="5.8" fill="none"/>
<g class="ticks">
<text transform="translate(158 1991.6) scale(0.885 1)" font-size="34.3" font-weight="bold" text-anchor="middle">-13</text>
<text transform="translate(242.3 1991.6) scale(0.885 1)" font-size="34.3" font-weight="bold" text-anchor="middle">-12</text>
<text transform="translate(326.6 1991.6) scale(0.885 1)" font-size="34.3" font-weight="bold" text-anchor="middle">-11</text>
<text transform="translate(410.9 1991.6) scale(0.885 1)" font-size="34.3" font-weight="bold" text-anchor="middle">-10</text>
<text transform="translate(495.2 1991.6) scale(0.885 1)" font-size="34.3" font-weight="bold" text-anchor="middle">-9</text>
<text transform="translate(579.5 1991.6) scale(0.885 1)" font-size="34.3" font-weight="bold" text-anchor="middle">-8</text>
<text transform="translate(663.8 1991.6) scale(0.885 1)" font-size="34.3" font-weight="bold" text-anchor="middle">-7</text>
<text transform="translate(141.2 1957.48) scale(0.885 1)" font-size="34.3" font-weight="bold" text-anchor="end">0</text>
<text transform="translate(141.2 1873.68) scale(0.885 1)" font-size="34.3" font-weight="bold" text-anchor="end">25</text>
<text transform="translate(141.2 1789.88) scale(0.885 1)" font-size="34.3" font-weight="bold" text-anchor="end">50</text>
<text transform="translate(141.2 1706.08) scale(0.885 1)" font-size="34.3" font-weight="bold" text-anchor="end">75</text>
<text transform="translate(141.2 1622.28) scale(0.885 1)" font-size="34.3" font-weight="bold" text-anchor="end">100</text>
<text transform="translate(141.2 1538.48) scale(0.885 1)" font-size="34.3" font-weight="bold" text-anchor="end">125</text>
</g>
<polyline points="158,1945.06 162.14,1945.06 166.29,1945.06 170.43,1945.06 174.58,1945.06 178.72,1945.06 182.87,1945.06 187.01,1945.06 191.16,1945.06 195.3,1945.06 199.45,1945.06 203.59,1945.06 207.74,1945.06 211.88,1945.06 216.03,1945.06 220.17,1945.06 224.32,1945.06 228.46,1945.06 232.61,1945.06 236.75,1945.06 240.89,1945.06 245.04,1945.06 249.18,1945.06 253.33,1945.06 257.47,1945.06 261.62,1945.06 265.76,1945.06 269.91,1945.06 274.05,1945.06 278.2,1945.06 282.34,1945.06 286.49,1945.06 290.63,1945.06 294.78,1945.06 298.92,1945.06 303.07,1945.06 307.21,1945.06 311.36,1945.06 315.5,1945.06 319.65,1945.06 323.79,1945.06 327.93,1945.06 332.08,1945.06 336.22,1945.06 340.37,1945.06 344.51,1945.06 348.66,1945.06 352.8,1945.06 356.95,1945.06 361.09,1945.06 365.24,1945.06 369.38,1945.06 373.53,1945.06 377.67,1945.06 381.82,1945.06 385.96,1945.06 390.11,1945.06 394.25,1945.06 398.4,1945.06 402.54,1945.06 406.68,1945.06 410.83,1945.06 414.97,1945.06 419.12,1945.06 423.26,1945.06 427.41,1945.06 431.55,1945.06 435.7,1945.06 439.84,1945.06 443.99,1945.06 448.13,1945.06 452.28,1945.06 456.42,1945.06 460.57,1945.06 464.71,1945.06 468.86,1945.06 473,1945.06 477.15,1945.06 481.29,1945.06 485.44,1945.06 489.58,1945.06 493.72,1945.06 497.87,1945.06 502.01,1945.06 506.16,1945.06 510.3,1945.06 514.45,1945.06 518.59,1945.06 522.74,1945.06 526.88,1945.06 531.03,1945.06 535.17,1945.06 539.32,1945.06 543.46,1945.06 547.61,1945.06 551.75,1945.06 555.9,1945.06 560.04,1945.06 564.19,1945.06 568.33,1945.06 572.48,1945.06 576.62,1945.06 580.76,1945.06 584.91,1945.06 589.05,1945.06 593.2,1945.06 597.34,1945.06 601.49,1945.06 605.63,1945.06 609.78,1945.06 613.92,1945.06 618.07,1945.06 622.21,1945.06 626.36,1945.06 630.5,1945.06 634.65,1945.06 638.79,1945.06 642.94,1945.06 647.08,1945.06 651.23,1945.06 655.37,1945.06" fill="none" stroke="#f04c2e" stroke-width="6.5" stroke-linecap="round" stroke-linejoin="round"/>
<g fill="#f04c2e"><circle cx="200.15" cy="1944.89" r="8.2"/><circle cx="250.73" cy="1944.89" r="8.2"/><circle cx="301.31" cy="1944.89" r="8.2"/><circle cx="351.89" cy="1944.89" r="8.2"/><circle cx="402.47" cy="1944.89" r="8.2"/><circle cx="453.05" cy="1944.89" r="8.2"/><circle cx="503.63" cy="1944.89" r="8.2"/><circle cx="554.21" cy="1944.89" r="8.2"/><circle cx="604.79" cy="1944.89" r="8.2"/><circle cx="655.37" cy="1943.55" r="8.2"/></g>
<polyline points="158,1944.8 162.14,1944.79 166.29,1944.78 170.43,1944.77 174.58,1944.75 178.72,1944.73 182.87,1944.71 187.01,1944.69 191.16,1944.66 195.3,1944.64 199.45,1944.6 203.59,1944.57 207.74,1944.53 211.88,1944.48 216.03,1944.43 220.17,1944.37 224.32,1944.3 228.46,1944.23 232.61,1944.15 236.75,1944.05 240.89,1943.95 245.04,1943.83 249.18,1943.7 253.33,1943.55 257.47,1943.38 261.62,1943.2 265.76,1942.98 269.91,1942.75 274.05,1942.48 278.2,1942.18 282.34,1941.85 286.49,1941.47 290.63,1941.05 294.78,1940.57 298.92,1940.04 303.07,1939.44 307.21,1938.77 311.36,1938.02 315.5,1937.18 319.65,1936.24 323.79,1935.19 327.93,1934.02 332.08,1932.7 336.22,1931.24 340.37,1929.61 344.51,1927.79 348.66,1925.77 352.8,1923.53 356.95,1921.04 361.09,1918.29 365.24,1915.25 369.38,1911.9 373.53,1908.21 377.67,1904.16 381.82,1899.73 385.96,1894.9 390.11,1889.64 394.25,1883.94 398.4,1877.8 402.54,1871.19 406.68,1864.11 410.83,1856.58 414.97,1848.6 419.12,1840.18 423.26,1831.36 427.41,1822.17 431.55,1812.66 435.7,1802.88 439.84,1792.88 443.99,1782.73 448.13,1772.5 452.28,1762.25 456.42,1752.07 460.57,1742.01 464.71,1732.14 468.86,1722.53 473,1713.23 477.15,1704.28 481.29,1695.73 485.44,1687.59 489.58,1679.91 493.72,1672.68 497.87,1665.91 502.01,1659.6 506.16,1653.76 510.3,1648.35 514.45,1643.38 518.59,1638.81 522.74,1634.64 526.88,1630.83 531.03,1627.37 535.17,1624.22 539.32,1621.37 543.46,1618.8 547.61,1616.48 551.75,1614.38 555.9,1612.5 560.04,1610.81 564.19,1609.29 568.33,1607.93 572.48,1606.71 576.62,1605.62 580.76,1604.64 584.91,1603.77 589.05,1602.99 593.2,1602.29 597.34,1601.67 601.49,1601.12 605.63,1600.63 609.78,1600.19 613.92,1599.79 618.07,1599.44 622.21,1599.13 626.36,1598.86 630.5,1598.61 634.65,1598.39 638.79,1598.19 642.94,1598.02 647.08,1597.87 651.23,1597.73 655.37,1597.6" fill="none" stroke="#4a72c4" stroke-width="6.5" stroke-linecap="round" stroke-linejoin="round"/>
<path d="M402.47 1885.9 V1844 M392.27 1885.9 h20.4 M392.27 1844 h20.4 M453.05 1778.97 V1746.46 M442.85 1778.97 h20.4 M442.85 1746.46 h20.4 M503.63 1678.41 V1640.87 M493.43 1678.41 h20.4 M493.43 1640.87 h20.4 M554.21 1635.17 V1565.78 M544.01 1635.17 h20.4 M544.01 1565.78 h20.4 M604.79 1633.16 V1526.9 M594.59 1633.16 h20.4 M655.37 1681.09 V1579.19 M645.17 1681.09 h20.4 M645.17 1579.19 h20.4" stroke="#4a72c4" stroke-width="3.7" fill="none"/>
<g fill="#4a72c4"><circle cx="200.15" cy="1944.56" r="8.2"/><circle cx="250.73" cy="1943.55" r="8.2"/><circle cx="301.31" cy="1940.54" r="8.2"/><circle cx="351.89" cy="1923.44" r="8.2"/><circle cx="402.47" cy="1865.12" r="8.2"/><circle cx="453.05" cy="1763.89" r="8.2"/><circle cx="503.63" cy="1659.97" r="8.2"/><circle cx="554.21" cy="1600.31" r="8.2"/><circle cx="604.79" cy="1576.51" r="8.2"/><circle cx="655.37" cy="1630.81" r="8.2"/></g>
<text transform="translate(76.4 1744.8) rotate(-90)" font-size="34.5" font-weight="bold" text-anchor="middle" textLength="323.6" lengthAdjust="spacingAndGlyphs">[cAMP] (% of PTH1R)</text>
<text transform="translate(406.3 2046)" font-size="34.5" font-weight="bold" text-anchor="middle" textLength="214.2" lengthAdjust="spacingAndGlyphs">[ePTH] (log M)</text>
<path d="M192.55 1539.4 H235.75" stroke="#4a72c4" stroke-width="6.5" stroke-linecap="round" fill="none"/>
<circle cx="214.15" cy="1539.4" r="8.2" fill="#4a72c4"/>
<text transform="translate(261.8 1550.5) scale(0.985 1)" font-size="33.3">PTH1R</text>
<path d="M192.55 1590 H235.75" stroke="#f04c2e" stroke-width="6.5" stroke-linecap="round" fill="none"/>
<circle cx="214.15" cy="1590" r="8.2" fill="#f04c2e"/>
<text transform="translate(261.8 1597) scale(0.985 1)" font-size="33.3">PTH1R<tspan dx="4.5" dy="11.5">XTAL</tspan></text>
</g>
</svg>
</body>
</html>
